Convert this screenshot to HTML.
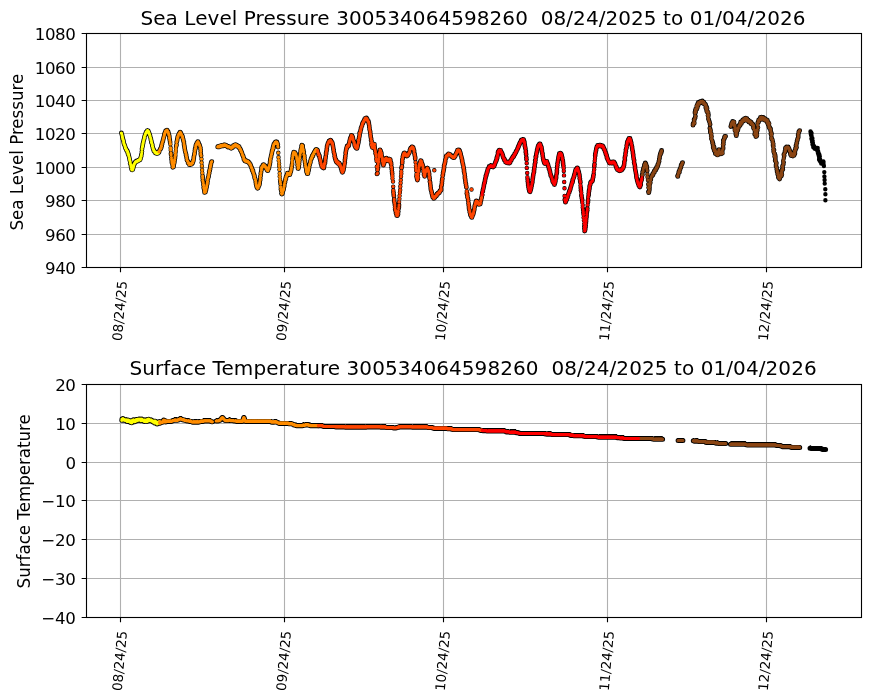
<!DOCTYPE html>
<html><head><meta charset="utf-8"><title>Buoy plots</title>
<style>html,body{margin:0;padding:0;background:#fff}svg{display:block}text{font-family:"DejaVu Sans", "Liberation Sans", sans-serif;fill:#000}</style></head><body>
<svg width="870" height="700" viewBox="0 0 870 700">
<rect width="870" height="700" fill="#fff"/>
<path d="M120.50 33.50V267.50M284.50 33.50V267.50M443.50 33.50V267.50M607.50 33.50V267.50M766.50 33.50V267.50M86.50 267.50H861.50M86.50 234.50H861.50M86.50 200.50H861.50M86.50 167.50H861.50M86.50 133.50H861.50M86.50 100.50H861.50M86.50 67.50H861.50M86.50 33.50H861.50" stroke="#b0b0b0" stroke-width="1.11" fill="none"/>
<path d="M120.50 384.50V617.50M284.50 384.50V617.50M443.50 384.50V617.50M607.50 384.50V617.50M766.50 384.50V617.50M86.50 617.50H861.50M86.50 578.50H861.50M86.50 539.50H861.50M86.50 500.50H861.50M86.50 462.50H861.50M86.50 423.50H861.50M86.50 384.50H861.50" stroke="#b0b0b0" stroke-width="1.11" fill="none"/>
<defs><path id="a0" d="M121.4 133h0m.2 .6h0m.2 .9h0m.2 .5h0m.3 1.2h0m0 .9h0m.4 .9h0m0 .7h0m.4 1h0m.3 .8h0m.1 .7h0m.2 1.3h0m.2 .9h0m.3 1h0m.3 .5h0m.3 .7h0m.1 .7h0m.3 .5h0m.2 1h0m0 .1h0m.3 .4h0m.3 .6h0m.2 .8h0m.2 .1h0m.2 .1h0m.1 .5h0m.5 .9h0m0-.3h0m.4 1.4h0m0-.7h0m.5 1.5h0m0 1h0m.4 1h0m0-.9h0m.3 1.7h0m.2 .6h0m.3 1.2h0m.2 .9h0m.2 1.4h0m.3 .9h0m.2 2.5h0m.1-1.6h0m.3 2.5h0m.3 .8h0m.2 1.2h0m.1 1h0m.4 .9h0m0 1h0m.4 .1h0m.1 .5h0m.1 0h0m.5-1h0m0 .5h0m.4-1.2h0m.2-.8h0m.3-1.3h0m.2-.3h0m.1-1.1h0m.1-.2h0m.3-.7h0m.1 .1h0m.4-.4h0m.1-.7h0m.2 .1h0m.3-.9h0m.2-.1h0m.3-.2h0m.2-.4h0m.2 .2h0m.1 .2h0m.3-.7h0m.2 .3h0m.4-.3h0m0 .3h0m.4-.4h0m.2 0h0m.2-.1h0m.1-.2h0m.2-.5h0m.3 .5h0m.2-.7h0m.2 .2h0m.4 0h0m.2-.5h0m.3 .1h0m.1 0h0m.1-.5h0m.4-.6h0m.1-1h0m.2-.5h0m.3-.9h0m.1-1.2h0m.4-1.4h0m.2-2h0m.1-2.7h0m.3-1.7h0m.3-1.2h0m.2-1.4h0m.1-.9h0m.2-.5h0m.2-1.2h0m.4-1.4h0m.1-.7h0m.3-.8h0m.2-.7h0m.1-1.1h0m.2-.9h0m.4-.8h0m.1-.4h0m.3-.6h0m.1-.7h0m.2-.5h0m.3-.5h0m.3-.3h0m0-.7h0m.5-.2h0m.2-.2h0m.2-.4h0m.2-.4h0m.1 .3h0m.2-.3h0m.3 .3h0m.1 .1h0m.3 .2h0m.3 .9h0m.1 .6h0m.4 .5h0m.1 .7h0m.1 .4h0m.4 .6h0m.2 .8h0m.2 1.2h0m.2 .6h0m.4 .7h0m.1 1.2h0m.1 .7h0m.4 2.2h0m0-1.2h0m.3 1.8h0m.2 .6h0m.4 2.2h0m0-1.1h0m.4 2.1h0m.2 1h0m.1 .4h0m.3 1h0m.3 .5h0m.2 .3h0m0 .7h0m.5 .3h0m0 .2h0m.4 .7h0m.2-.1h0m0 .6h0m.5 .3h0m.1 .3h0m.2-.1h0m.3 .2h0m.1 0h0m.1 .2h0m.5-.4h0m.1 .2h0m.2-.2h0m.1-.3h0m.4 .8h0m.3-.7h0m.1-.4h0m.3 .5h0m.1-.6h0m.3 .1h0m.1 .1h0"/><path id="a1" d="M159 151.7h0m.3-.3h0m.1-.4h0m.2-.3h0m.4-.9h0m.1-.4h0m.2-.2h0m.2-.2h0m.2-.7h0m.4-.2h0m.1-.9h0m.3-1.7h0m.1 .7h0m.4-2.5h0m0 .5h0m.2-1.4h0m.2-.5h0m.4-.8h0m.2-1.2h0m.2-.9h0m.4-1.3h0m.1-.6h0m.3-.9h0m.2-.9h0m.1-1.3h0m.3 .2h0m.1-.9h0m.2-.9h0m.4-.7h0m.1-.5h0m.1-.3h0m.2-.5h0m.5-.2h0m.2-.1h0m.2 0h0m.1 0h0m.3-.3h0m.2 .4h0m.1 .1h0m.2 .3h0m.4 1.2h0m.3-.2h0m.1 1.3h0m.1-.1h0m.4 .8h0m.1 1h0m.3 .7h0m.2 1.4h0m.1 1.3h0m.3 1.6h0m.3 1.9h0m.9 11.5h0m.1 1.3h0m.3 2.9h0m.2 2h0m.2 1.3h0m.1 1.8h0m.4 1h0m.2 .9h0m.3 1.2h0m0 1.5h0m.4-.4h0m.3-.2h0m.1-.8h0m.1-.8h0m.4-1.6h0m.2-1.1h0m.1-.7h0m.3-2h0m.3-3.2h0m0 1.4h0m1.2-11.8h0m.3-1.2h0m.2-2.8h0m.3-1h0m.2-1.1h0m.2-1.5h0m.2-.7h0m.1-.9h0m.4-.6h0m.1 .3h0m.1-1.2h0m.4-.8h0m.2-.1h0m.2-.9h0m.1 0h0m.4-.5h0m.1 .2h0m.4-1.1h0m0 .7h0m.3-.1h0m.1-.2h0m.2 1h0m.3-.2h0m.4 1.2h0m.1 .1h0m.2 .7h0m.4 .4h0m.1 .8h0m.3-.2h0m.1 1.3h0m.1 .4h0m.5 2h0m0-.8h0m.4 2.1h0m.3 .7h0m.1 1.9h0m.2 1.3h0m.1 .4h0m.2 1.3h0m.2 1.5h0m.3 1.7h0m.3 1.5h0m.1 .4h0m.4 1.4h0m.3 .9h0m0 1.1h0m.3 .9h0m.3 1.6h0m.1 .5h0m.2 1.7h0m.4 .6h0m.1 .1h0m.2 .5h0m.3 .5h0m.1 1h0m.3-.3h0m.1 .1h0m.3 .7h0m.1 .4h0m.4 0h0m.1 .9h0m.4-.1h0m0-.2h0m.4-.2h0m.2 .3h0m.3-.1h0m.1-.7h0m.2 .7h0m.2-.8h0m.3 .4h0m.2-.7h0m.2 .8h0m.2-.7h0m.3-.2h0m.2-.2h0m0-1h0m.3-.9h0m.4-.2h0m.1-.7h0m.3-1.4h0m.1-1.1h0m.1-1.1h0m.5-2h0m.1-.9h0m.2-.9h0m.2-2.1h0m.2-1.7h0m.4-.6h0m.2-1.9h0m.1 .8h0m.1-2.1h0m.4-.5h0m.4-1.3h0m0 .6h0m.4-.2h0m0-.4h0m.3-1.1h0m.3 .4h0m.2-1.1h0m.1 1.1h0m.3 0h0m.2 0h0m.2 .7h0m.1 .4h0m.3 .7h0m.3 .3h0m.1 .7h0m.2 0h0m.3 1h0m.4 1.3h0m.2 1.8h0m.1 1.9h0m.1 2.5h0m.3 1.8h0m1.5 20.4h0m.1 1.8h0m.1 2.6h0m.4 1.6h0m.3 2.2h0m.1 1h0m.1 2.4h0m.4 1.5h0m.3 1.7h0m.2 1.4h0m.1-.1h0m.3 0h0m0-.2h0m.4-.2h0m.3-1.3h0m.2-.3h0m.2-1.2h0m.1-.9h0m.3-.6h0m.1-.8h0m.2-1.5h0m.4-1.2h0m.1-1.1h0m.2-1.4h0m.2-2h0m.2-.5h0m.2-1.1h0m.4-.9h0m.1-.9h0m.2-1.6h0m.4-2.9h0m0 1.5h0m.5-2.3h0m0-1h0m.4-1h0m.2-1.9h0m.2-.8h0m0-.8h0m.4-.6h0m.1-1.2h0m.2-1h0m.3-.6h0m.3-.4h0m5.9-14.7h0m.3-.3h0m.2-.2h0m.2 .3h0m0-.1h0m.4 .2h0m.2-.2h0m.3 0h0m0-.4h0m.2 .6h0m.3-.3h0m.3-.6h0m.2 0h0m.3 .5h0m0-.5h0m.4 .2h0m.2-.1h0m.2-.4h0m.1-.2h0m.2 .7h0m.3-.7h0m.4 .5h0m.1-.6h0m.2 .3h0m.3 .3h0m.3-.6h0m0-.2h0m.2 .7h0m.4-.4h0m.1 0h0m.4-.5h0m.2 .4h0m.1 .1h0m.3-.4h0m.1 .1h0m.2 .2h0m.2 .4h0m.3-.1h0m.2-.3h0m.2 0h0m.3 .5h0m.1 .1h0m.3 .4h0m.2 0h0m.1-.1h0m.5 .8h0m.2-.6h0m.1 .1h0m.3 .4h0m.1-.4h0m.2 .4h0m.2-.1h0m.4 .1h0m.2-.1h0m.1 .5h0m.2-.1h0m.3 .2h0m.3 0h0m.1 0h0m.1-.1h0m.4 0h0m.3 .7h0m0 .3h0m.4-.7h0m.1 .4h0m.3-.4h0m.3 .1h0m.1-1h0m.4-.1h0m0 .4h0m.4-.2h0m.2-1.1h0m.3 .1h0m.1-.1h0m.2-.2h0m.3-.2h0m.1-.2h0m.2 .3h0m.2-.5h0m.2 .3h0m.2 .6h0m.3-1.1h0m.3 .6h0m.2 .4h0m.2-.1h0m.2 .3h0m.3-.8h0m.3 .8h0m.2-.1h0m0 .4h0m.3-.1h0m.2-.2h0m.3 .4h0m0 .4h0m.5-.6h0m.3 .8h0m0 .4h0m.3 .5h0m.3-.4h0m.1 .8h0m.2 .3h0m.3 .4h0m.3 .3h0m0 .8h0m.4 .3h0m0-.4h0m.3 .7h0m.2 1.2h0m.2 .1h0m.3 .5h0m.3 .8h0m.1 .6h0m.3 .6h0m.1 .6h0m.4 .8h0m.2 .6h0m.2 0h0m.3 1.3h0m0 .1h0m.2 1h0m.2 .9h0m.2-.7h0m.3 .9h0m.4 1h0m0-.5h0m.2 .6h0m.3 .2h0m.3-.7h0m.3 .7h0m.2 0h0m.2-.4h0m.1 .8h0m.1-.5h0m.3 .6h0m.4 .1h0m.1 .1h0m.2-.1h0m.2-.5h0m.2 .8h0m.2-.1h0m.3 .2h0m.3 .6h0m.1 0h0m.3-.2h0m.3 .8h0m.2 .6h0m.1 .3h0m.3 .4h0m.2-.4h0m.3 1.1h0m.2 .2h0m.2 .9h0m.2 .6h0m.1 .4h0m.3 .2h0m.4 .8h0m0 .5h0m.2 1.2h0m.4-.1h0m.3 .5h0m.1 .9h0m.1 .9h0m.3 .6h0m.2 .5h0m.3 1.2h0m.2 .6h0m.3 .2h0m.1 1.1h0m.1 1.1h0m.3 .7h0m.4 .7h0m.2 1.1h0m.1 .4h0m.2 1.3h0m.1 .8h0m.2 1.5h0m.3 1.3h0m.2 .7h0m.3 1h0m.2 .6h0m.2-.1h0m.3 .6h0m.3-.3h0m.2-.1h0m.1-.8h0m.1-.4h0m.4-.2h0m.1-.4h0m.2-.4h0m.4-1h0m.2-1.2h0m.1-1.2h0m.4-2h0m.2-1.6h0m.1-2.3h0m.2-.6h0m.2-2.4h0m.2-.9h0m.4-2.3h0m.2-1.7h0m0-1.1h0m.5 .2h0m.1-.7h0m.4-.8h0m.1-.2h0m.1-.4h0m.4-.4h0m.2-.1h0m.2-.3h0m0 .2h0m.3 .4h0m.4 0h0m.1 0h0m.1 .7h0m.3 .3h0m.3-.4h0m.1 .3h0m.2 .5h0m.4 1.2h0m.3 .2h0m0-.7h0m.3 1.4h0m.2-.1h0m.2 1h0m.2 0h0m.3 .6h0m.3 .4h0m0-.4h0m.4 .3h0m.2-.8h0m.3-.7h0m.2-.5h0m.2-.3h0m.1-1.1h0m.4-1.4h0m.1-.8h0m.3-.7h0m.3-1.7h0m0-1.2h0m.2-1.7h0m.2-1h0m.4-1.5h0m.2-.5h0m.1-1.4h0m.4-1.1h0m.2-.9h0m.1-1h0m.2-1.4h0m.2 .1h0m.4-.9h0m0-.9h0m.3-1.8h0m.4 .7h0m0-2.1h0m.3-1.1h0m.1-.4h0m.3-.4h0m.4-.5h0m.1-.1h0m.3-.6h0m.1 .5h0m.1-1h0m.5 .3h0m0-.4h0m.2-.4h0m.3 .1h0m.2 .1h0m.2 .3h0m.3-.4h0m.1 .8h0m.4 .3h0m.3 1.1h0m.2 .4h0m0 1.9h0m.2 .6h0m2.4 34.8h0m.2 2.1h0m.3 5.3h0m.4 1.6h0m.2 2.6h0m.3 .2h0m0 .4h0m.2-.1h0m.4-.7h0m0 .2h0m.4-2.5h0m0 .6h0m.3-1.2h0m.4-.6h0m.2-1.3h0m.2-1.3h0m.3-.7h0m.1-1.5h0m.1-.6h0m.4-1.8h0m.2-.4h0m.2-1.6h0m.2-.6h0m.2-1.4h0m.3 .5h0m.2-1.6h0m0-.8h0m.5-.5h0m.1-.1h0m.2-1h0m.3-.5h0m.2-.6h0m.1-.8h0m.3 .2h0m.3 .4h0m.2-.1h0m0 .4h0m.5-.6h0m.2 .7h0m.2 0h0m.1 .4h0m.3-.5h0m.3 .4h0m.2-.8h0m0-.6h0m.3-.6h0m.4-.8h0m.1-1h0m.3-.9h0m.1-1h0m.3-1.5h0m.3-2.1h0m.2-1h0m.6-6.8h0m.2-2.1h0m.3-1.4h0m.1 .2h0m.3-1.3h0m.1-.5h0m.2-.1h0m.3 .2h0m.2-.1h0m.4 .2h0m.2 1h0m0-.4h0m.4 .7h0m.2-.1h0m.3 1.2h0m.1 .5h0m.2 .2h0m.2 .9h0m.3 1.6h0m.1 1h0m.2 1h0m.3 1.8h0m.3 3.4h0m0-2.2h0m.4 5.3h0m.1-1.5h0m.2 1.7h0m.3-.9h0m.2-1.7h0m.3-1.7h0m.1-2.2h0m.2-1.7h0m.2-2.3h0m.2-1.4h0m.3-1.7h0m.3-2.1h0m.2-.8h0m.1-1.7h0m.2-1.1h0m.4-1.2h0m.3-1.4h0m0-.9h0m.3-.6h0m.2 .1h0m.3 .6h0m.3-.1h0m0 1.3h0m.2 1.3h0m.4 1.4h0m.1 1.7h0m.4 .5h0m0 2.4h0m.5 1.2h0m.1 1.6h0m.1 2h0m.4 1.4h0m.1 1.4h0m.3 1.7h0m.2 2h0m.2 .8h0m.2 1.1h0m.3 1.1h0m.2 1.5h0m.1 1.5h0m.2 .2h0m.2 .7h0m.2 .9h0m.2 .2h0m.4 0h0m.2-.1h0m.1-.9h0m.2-1.1h0m.4-1h0m.1-1.3h0m.4-1.5h0m0-1.3h0m.5-2.2h0m0 .6h0m.3-1.1h0m.3-.9h0m.2-.7h0m0-1h0m.3-.6h0m.3-1.5h0m.1 .4h0m.2-1h0m.4-1h0m.1 .5h0m.2-1h0m.2-1.1h0m.4 .3h0m.3-1.4h0m0 1.2h0m.2-1.6h0m.4-.3h0m.1-.1h0m.2-.3h0m.2-1h0m.3-.3h0m.1-.2h0m.2-.1h0m.3-.8h0m.2-.6h0m.4-.3h0m.2 .8h0m.2-1.3h0m.2-.3h0m.2-.2h0m.3 .3h0m0 0h0m.5 .4h0m0 0h0"/><path id="a1s" d="M170.4 144.2h0m.2 3.6h0m.1 2.2h0m4.7 4.9h0m.2-2.4h0m.3-4.2h0m0 2.4h0m25.6 8.4h0m.1 3.5h0m.3 3.4h0m.2 4h0m.2 3h0m76-20.2h0m.2 4.5h0m.2 3.2h0m.4 2.9h0m.1 2.8h0m.2 3.3h0m.3 4h0m0 3h0m.3 3h0m.7 7.4h0m11.5-24.9h0m.1-2.4h0"/><path id="a2" d="M317.5 150.5h0m.2 1.1h0m.1-.2h0m.1 1.2h0m.2 .3h0m.5 2.1h0m0-1.1h0m.2 .7h0m.4 .8h0m.3 1.7h0m0-1.2h0m.2 1.7h0m.2 1.2h0m.5 1.4h0m.2 1.2h0m.1-.1h0m.2 2.2h0m.3 .1h0m.1 .8h0m.2 1.2h0m.3 .5h0m.1 .6h0m.3-.4h0m.4 .3h0m.2 .3h0m0 .1h0m.2 .7h0m.5-.1h0m.1 .4h0m.2-.1h0m.1-.9h0m.2-.5h0m.4-3.1h0m0 .9h0m.5-1.3h0m.2-2h0m.1-2h0m.2-1.1h0m.2-1.3h0m.4-2.6h0m0-1.1h0m.3-1.5h0m.4-1.6h0m0-.8h0m.2-2.1h0m.2-1.1h0m.3-1h0m.4-.9h0m0-.5h0m.3-.2h0m.3-.9h0m.3-.5h0m0 .4h0m.2-1h0m.3-.2h0m.2 .2h0m.4-.5h0m.2 .1h0m.2-.3h0m.2-.3h0m.1 1.3h0m.3-.4h0m.2-.1h0m.2 .4h0m.2 .4h0m.2 .8h0m.3 .9h0m.1-1.1h0m.4 1h0m.2 1.3h0m.2 1.1h0m.1 .4h0m.2 1.6h0m.3 1.9h0m.2 .1h0m.1 2.3h0m.3 .8h0m.4 1.4h0m.1 1.9h0m.3 .3h0m.2 1.4h0m0 .5h0m.5 1.5h0m0-.5h0m.4 .4h0m.1 1.8h0m.2 0h0m.1-.2h0m.4 .8h0m.1 0h0m.2-.3h0m.5 0h0m.1 1.4h0m.2-.1h0m.2-.2h0m.2 .4h0m.3 0h0m.1 .2h0m.4-.4h0m.1-.1h0m.3 1.6h0m.1-.8h0m.3 .7h0m.1 1.2h0m.3-.6h0m.2 .6h0m.4 1.3h0m.1-.2h0m.1 1.9h0m.5 .3h0m.1 .9h0m.1 1.1h0m.3 .5h0m.3 .7h0m.1-.7h0m.2 .4h0m.2-.7h0m.4-.8h0m.2-.7h0m.1-1.3h0m.1-.5h0m.4-1.2h0m.1-1.5h0m.2-1h0m.4-1.7h0m.1-2.7h0m.3-1.8h0m.2-2h0m.3-2.6h0m0-1h0m.3-1.5h0m.2-1.4h0m.4-.8h0m0-1h0m.3-.7h0m.1-.6h0m.3-.5h0m.3 .2h0m.2 .4h0m.3-1.2h0m.2 .8h0m.2-.8h0m.3 0h0m.1-.8h0m.1-.9h0m.3-1h0m.3-1.3h0m.1-.7h0m.4-1.1h0m.1-1.2h0m.4-.4h0m0 0h0m.4-.8h0m.1-.7h0m.3-1.1h0m.1 .5h0m.4 .3h0m0-.6h0m.3 .5h0m.3 .8h0m.3 1.6h0m0-1.2h0m.3 1.9h0m.2 1.2h0m.3 .5h0m.1 .6h0m.4 .3h0m.2 .8h0m.2 1.4h0m.2 1.5h0m.2-.2h0m.1 .8h0m.2 .7h0m.3 .2h0m.3 .3h0m.1 .4h0m.3 .4h0m.3-.2h0m.3 .5h0m.1-.2h0m.2 .1h0m.3-1.4h0m.1-.5h0m.3-1.5h0m.1-.6h0m.3-.8h0m.3-3.4h0m0 1.8h0m.4-2.2h0m.2-1.9h0m.3-1.3h0m.2-1.4h0m0-2h0m.3 0h0m.4-1.2h0m.2-1.2h0m.2-.9h0m.2-.3h0m.1-1.4h0m.2-.4h0m.3-.8h0m.2-.6h0m.3-.6h0m.2-.9h0m.1-.9h0m.2-.4h0m.4-.3h0m.1-.5h0m.4-.9h0m.1-.1h0m.1 0h0m.4-.9h0m.2-.5h0m.1 .3h0m.2-1.1h0m.4-.1h0m.2-.1h0m.2 .3h0m.2-1.4h0m.3 .9h0m.1-.3h0m.3-.5h0m.2-.3h0m.1 .8h0m.4 .6h0m0-.6h0m.4 .6h0m.2 .6h0m.2 .7h0m.1 .5h0m.2 .5h0m.5-.2h0m0 1.1h0m.3 .3h0m.2 1.6h0m.3 1.6h0m.1 1.4h0m.2 1.7h0m.3 1.2h0m.3 1.5h0m.1 1.5h0m.3 2h0m.1 1.4h0m.4 3.4h0m0-1.7h0m.4 2.3h0m.1 1.8h0m.3 .6h0m.2 1.6h0m.3 0h0m.2 2.8h0m0-1.9h0m0 .3h0m.5-.5h0m0-.5h0m.1-1.2h0m.1 1.7h0m.2 .9h0m.3 .6h0m.1-1.7h0m.2 1h0m.1 .2h0m.4 .5h0m.2 1.3h0m.1 1h0m.3 1h0m.2 1h0m.2 2.1h0m.4 .4h0m1 20.1h0m.1-.1h0m.4-.5h0m0-3.3h0m.4-1.7h0m.2-2.3h0m.1-1.9h0m.8-9h0m0 2.1h0m.5-4.6h0m0 1.1h0m.4-2.2h0m.1-1.7h0m.2 .9h0m.4 .1h0m0 1h0m.2 .3h0m.5 .7h0m.1 1.2h0m.2 1.4h0m.1 1h0m.5 1.3h0m.1 3.2h0m.1-2.1h0m.4 2.5h0m.1 1.5h0m.2 1.3h0m.3 .4h0m0 .7h0m.3-1.1h0m.2-.1h0m.5-1.4h0m0-1.6h0m.4 .4h0m.1-.5h0m.3-.8h0m.1-1.3h0m.3-.1h0m.1-.2h0m.2-.2h0m.4-.1h0m0 .8h0m.3-.1h0m.2 .2h0m.4 .7h0m.2 .7h0m.2 0h0m.2 .1h0m.3 .3h0m.2-.3h0m0-.2h0m.3 .5h0m.4-.6h0m0-1.1h0m.2 0h0m.3 .4h0m.3-.1h0m.3-.2h0m.2 .5h0m0 .3h0m.4 1.7h0m.1 .9h0m.3 .2h0m.1 1.5h0m.3 2.8h0m.3 2.1h0m.2 2.5h0m.2 1.8h0m1.3 19.1h0m.2 2.1h0m.2 1.2h0m.3 3.3h0m0 1.9h0m.5 2h0m.2 1.8h0m.3 4.6h0m.4 1.2h0m.2 .4h0m.2 1.9h0m.1 .4h0m.2 .4h0m.1 .4h0m.3 1.1h0m.2 .2h0m.4 .1h0m0-.4h0m.3-.1h0m.4-.7h0m0-1.6h0m.3-1.5h0m.3-2.8h0m.3-1.6h0m.1-2h0m2.5-37h0m.4-1.7h0m.3-3.4h0m.1-1.7h0m.1-1.9h0m.4-1.1h0m.1-1.8h0m.2-.5h0m.2-1h0m.3-.2h0m.2-1.1h0m.2-.2h0m.2-.2h0m.3-.3h0m.3 .7h0m.1-.2h0m.2 .1h0m.2 .6h0m.5 .4h0m.1 .3h0m0 .6h0m.3-.6h0m.2 .4h0m.3 .8h0m.2 0h0m.4-.6h0m.2-.3h0m0 .5h0m.3-1.2h0m.3 .3h0m.1 .1h0m.4-1.3h0m.1 .1h0m.3-.8h0m.2 .3h0m.2-.8h0m.1-.1h0m.2-.7h0m.2-1.4h0m.2-.5h0m.3-.9h0m.2-.1h0m.4-.6h0m.2 .5h0m.3-.7h0m.2 0h0m.2-1h0m.3 .2h0m0 .2h0m.2 0h0m.2 0h0m.3 .8h0m.3-.3h0m.1 .4h0m.3 1.3h0m.2 .2h0m.2 .9h0m.1 .6h0m.3 2.4h0m.2 .5h0m.2 1.4h0m.4 1.9h0m0 1.5h0m1.3 17.6h0m.3 1.3h0m.2 .6h0m.2 1.3h0m.2 .5h0m.4-1.2h0m.6-7.1h0m.2-1.1h0m.2-1.2h0m.2-2.3h0m.4-1.5h0m.1-1.2h0m.1-.9h0m.5-.8h0m.1-.9h0m.3-.3h0m.2-1h0m.1 .5h0m.4 .1h0m.1 .6h0m.1-.5h0m.2 1.3h0m.2 .7h0m.4 .6h0m.1 1.3h0m.3-.2h0m.4 1.4h0m0 1.8h0m.4 1.4h0m.2 2.2h0m.1-.3h0m.3 1.3h0m0 1.9h0m.5 1.3h0m.2 .3h0m.2-1.3h0m.1-.9h0m.2-1h0m.2-.7h0m.4-1.6h0m0 0h0m.3-.9h0m.2-.3h0m.4-.2h0m.2-.7h0m.3-.5h0m.1-.1h0m.3 .4h0m0-.2h0m.2 1h0m.4 .7h0m.2 .5h0m0 .9h0m.5 .7h0m.2 2.6h0m0-.9h0m.3 3.1h0m.2 1.6h0m.3 3h0m.2 1.1h0m.2 1.7h0m.2 1.8h0m.2 2h0m.2 1.6h0m.4 1.2h0m.2 .6h0m.2 1.5h0m.3 .7h0m.1 .9h0m.2 .9h0m.2 .4h0m.2 1.1h0m.2-.5h0m.4 .4h0m0 .6h0m.4 .5h0m.1 .4h0m.3-.5h0m.2-.2h0m.4-.2h0m.1-.1h0m.3-.8h0m.1 .5h0m.2-.9h0m.4 0h0m0-.4h0m.3 .1h0m.2 0h0m.1-.5h0m.3-.7h0m.3-.8h0m.2 .8h0m.2-.1h0m.3-.9h0m.1 .3h0m.3-1h0m.1 .1h0m.3-.3h0m.2 .2h0m.2-.6h0m.4 .3h0m0 .1h0m.4-.8h0m0-.2h0m.2-.9h0m.4-.2h0m.2 0h0m.2-.3h0m.4-.3h0m0-1.2h0m.1-2.3h0m.5-1.8h0m.2-1.5h0m.1-1.9h0m.2-1.6h0m.2-1.2h0m.3-3h0m.2-.9h0m.2-2h0m.3-1.1h0m.2-1.4h0m.3-1.4h0m.2-1.6h0m0-1.5h0m.5-1.5h0m.2-.4h0m.2-1.2h0m.2-1.2h0m.1-1.3h0m.3-.8h0m.3-.9h0m.2-1.9h0m0 1.4h0m.3-1.1h0m.2-1.2h0m.2 .5h0m.3-.4h0m.3-.4h0m.3 .1h0m.2-.6h0m.2 .2h0m.2 .1h0m.2-1.2h0m0 1.1h0m.4-.7h0m.1 .2h0m.2-.2h0m.5 .2h0m.1-.2h0m.1 .8h0m.4 .2h0m.2 .2h0m.1-.1h0m.4 .1h0m.2 .5h0m.2 .2h0m.2 .3h0m.1 .1h0m.3 .2h0m.2 .1h0m.3 .2h0m.1-.4h0m.1 0h0m.5 .6h0m.1 .4h0m.1-.4h0m.2-.2h0m.4 .6h0m.1-.7h0m.3-.5h0m.2 .6h0m.1-.4h0m.3-.2h0m.4-1.6h0m0 .9h0m.2-1h0m.4-.9h0m.1-.3h0m.3-.5h0m.3-.1h0m.2-1.2h0m.1 0h0m.2-.6h0m.2-.4h0m.2-.7h0m.4 .1h0m0 .3h0m.3 0h0m.3 .3h0m.1-.7h0m.2-.1h0m.4 .4h0m.2 .8h0m.2-.2h0m.1 .5h0m.3 1h0m.3 .4h0m.3 2h0m0-.9h0m.3 1.8h0m.3 .8h0m.3 1.4h0m.2 .6h0m.2 .9h0m.2 1h0m0 .8h0m.3 1.3h0m.4 1.3h0m.1 .9h0m.1 .3h0m.4 1.8h0m.2 1.6h0m.3 2.7h0m0-1.2h0m.2 2.3h0m.4 1.8h0m.3 2.3h0m0 1.5h0m.3 1.3h0m.2 1.8h0m.2 2h0m.3 .7h0m.2 1.7h0m.3 1.8h0m.4 6.2h0m.4 .3h0m.1 1.8h0m.2 1.7h0m.4 1.2h0m.3 2h0m.3 2.8h0m.2 1.9h0m.3 1.6h0m0 1.3h0m.2 1.4h0m.5 2.5h0m.1-1.2h0m.2 1.8h0m.3 1.2h0m.1 1.2h0m.3-.2h0m.2 .9h0m.3 .5h0m.2 .8h0m.2 .2h0m.3 .3h0m.1-.6h0m.1 .3h0m.2-1.2h0m.4-.3h0m.3-1.2h0m.1 0h0m.3-.9h0m.2-.9h0m.2-1.3h0m.3-.9h0m.2-1.2h0m.3-1.9h0m.2-1.7h0m0 1h0m.4-1.7h0m.1-.8h0m.3-1.1h0m.1-.7h0m.3-.5h0m.2-.6h0m.1-.2h0m.4 .5h0m.2 0h0m.3 .3h0m.3-.1h0m.1 1.5h0m.2-.1h0m.1 .2h0m.3 .3h0m.3-.3h0m0 .7h0m.5 .1h0m0 .3h0m.4-.3h0m.2 0h0m.2 .1h0m0-.2h0m.4-.1h0m.2-.7h0m.3-2.7h0m.1 .7h0m.2-.8h0m.3-1.7h0m.2-1.1h0m.2-.1h0m.3-2.1h0"/><path id="a2s" d="M371.4 144.8h0m.4 1.7h0m2.8-2.2h0m1.5 11.7h0m.1 2.9h0m.4 2.2h0m.2 5.6h0m1.8-4.9h0m.1-2.3h0m13.7 16.5h0m.1 2.4h0m.5 3.2h0m.2 5h0m.1 3.7h0m1.6 17.1h0m4.2-5.5h0m.3-3.1h0m.2-3.1h0m.3-3.2h0m.3-2.6h0m.1-3.4h0m.3-3.4h0m.2-3h0m.2-3.6h0m.3-2.7h0m0-2.4h0m14.3-9.1h0m.3 3.2h0m.1 2.4h0m.1 2.6h0m.4 3.6h0m1.6 .4h0m0 3h0m16.2-7.2h0m32.5 20.8h0m4.7-1.6h0"/><path id="a3" d="M482.2 194.4h0m.1-1.7h0m.3-.8h0m.2-.5h0m.1-1.4h0m.4-1.2h0m.2-1h0m.3-1.6h0m.1-1h0m.3-1.3h0m.1-.7h0m.3-.3h0m.3-1.5h0m.1-1.2h0m.3-1.1h0m.1-.8h0m.3-.8h0m.1-1.4h0m.5-.5h0m0-.9h0m.4-1h0m.2-1.3h0m.1 .7h0m.4-1.4h0m.1-1h0m.1-.4h0m.2-1h0m.4-.4h0m.3-.4h0m.2-.4h0m.1-.4h0m.2-.5h0m.2-.7h0m.3 .6h0m.1-.3h0m.2-.5h0m.5 .1h0m.2-.3h0m.2-.4h0m.1-.1h0m.1 .1h0m.5 .4h0m.1-.1h0m.3 .5h0m.2-.5h0m0 .6h0m.4-.4h0m.1 .6h0m.2-.6h0m.4 .8h0m.1-.3h0m.3-.5h0m.1 .4h0m.4-.5h0m.2-.2h0m.2-.7h0m.1-.3h0m.3-.3h0m.2-1h0m.3-1h0m.1 .1h0m.2-.5h0m.2-.9h0m.3-.7h0m.3-.1h0m.2-1.4h0m.1 .5h0m.1-1.9h0m.4 .3h0m.2-1.5h0m.1-.9h0m.4-1.3h0m.1-1.9h0m.2-.8h0m.3 .6h0m.3-1.1h0m.3 .4h0m.1-.8h0m.1-.6h0m.4 .5h0m0-.2h0m.5 .4h0m.1-.4h0m.3 .3h0m0-.3h0m.4 1.2h0m.1 .6h0m.3 .1h0m.3 .3h0m.2 .5h0m.1 .5h0m.3 .3h0m.1 .9h0m.5 .6h0m0 .8h0m.1 .5h0m.2 .7h0m.3 .7h0m.2 .5h0m.4 .1h0m.2 1.2h0m.2-.5h0m.2 .8h0m.2 0h0m.3 .8h0m.3 1.1h0m0-.6h0m.4 .4h0m0 .1h0m.3 .4h0m.2 0h0m.2-.1h0m.3 0h0m.2 .6h0m.3-.5h0m.2-.2h0m.1 .6h0m.3-.2h0m.4 .3h0m.2-.3h0m.1 0h0m.1 .4h0m.4-1h0m.2 .4h0m.2 .7h0m.2-1.5h0m.2 .3h0m.2 .4h0m.2-1.3h0m.1 .1h0m.3-.7h0m.3-.3h0m.3-.7h0m0 .7h0m.2-.9h0m.4-.9h0m.2-.2h0m.1 .1h0m.3-.9h0m.3-.1h0m0-.3h0m.5-.8h0m0 .7h0m.5-.5h0m.2-.9h0m.2-.2h0m.1-.1h0m.2-.9h0m.1-.4h0m.3 .4h0m.4-1h0m.2-.6h0m.1-.3h0m.3 0h0m.1-.8h0m.2-.3h0m.4-.2h0m.3-.8h0m.1-.3h0m.2-.4h0m.1-.5h0m.3-.4h0m.1 0h0m.2-1.3h0m.3-.9h0m.3 .3h0m.3-.6h0m.2-.8h0m.2-1.1h0m.3 .1h0m.2-.8h0m.1-.6h0m.3 .2h0m.1-.8h0m.1 0h0m.3-.7h0m.4-1.1h0m.1 .5h0m.4-.9h0m.1-.1h0m.1 .2h0m.4-.2h0m0-.4h0m.3 .2h0m.2-.1h0m.4-.1h0m.1-.2h0m.3 .3h0m.2 .1h0m.1 .3h0m.2 1.8h0m.4 .1h0m.1 1.3h0m.3 1.8h0m.1 1.1h0m.3 1.1h0m.2 1.1h0m.4 2.6h0m0 1.3h0m.3 2h0m.2 3.2h0m.2 2h0m1.2 20.1h0m.1 1.8h0m.3 2.3h0m.1 1.6h0m.3 2h0m.3 .4h0m.1 1.5h0m.3 .3h0m.1 1.5h0m.3 0h0m.1 .5h0m.4 .3h0m.1-1h0m.3-.3h0m.3-1.1h0m.3-1.2h0m0-.6h0m.4-1.4h0m.1-.2h0m.3-2h0m.2-.8h0m.3-1.3h0m.2-2.1h0m.2-1.6h0m.2-1.2h0m.2-1.4h0m.1-1h0m.3-1.3h0m.4-1.4h0m0-1.3h0m.2-1.3h0m.2-1.7h0m.3-1.4h0m.1-2h0m.4-3.6h0m.1 1.9h0m.4-5.5h0m.4-.2h0m.2-2.2h0m.2-1.1h0m.2-1.2h0m.3-.7h0m.1-1.5h0m.3-1.1h0m.3-1.2h0m.1-.1h0m.2-1.1h0m.2-.8h0m.3-.1h0m.1-.1h0m.2-.5h0m.4-.2h0m.2-.4h0m.1-.5h0m.4 .6h0m.2-.7h0m0 .6h0m.4 .3h0m.1 .7h0m.2 .9h0m.4 .4h0m.2 2.3h0m.1-1.8h0m.3 2.1h0m.1 1.3h0m.2 1.7h0m.4 1h0m0 1.2h0m.3 1.6h0m.3 2.1h0m.2 .9h0m.2 1.3h0m.3-.2h0m0 .8h0m.3 1.5h0m.3 .3h0m.3 .2h0m.2 .5h0m.2-.6h0m.1 0h0m.2-.4h0m.3-.7h0m.3 .5h0m.1 0h0m.2-.2h0m.2-.8h0m.3 0h0m.1 .9h0m.4 .7h0m.1 .4h0m.4 .8h0m.2 .4h0m.1 1.3h0m.3 .4h0m.2 .6h0m.2 .7h0m.2 1.3h0m.3-.1h0m.1 1.3h0m.4 .6h0m.2 1.6h0m0-.7h0m.2 1.4h0m.4 1.2h0m.1 1.2h0m.3 .2h0m.2 .6h0m.3 .8h0m.3 .8h0m.2 1h0m.2 .4h0m.1 0h0m.3 1.8h0m.1 .4h0m.4 .8h0m.2 .1h0m.2 .5h0m.2 .5h0m.2 .4h0m.2 .3h0m.2 .4h0m.2 .2h0m.2-.9h0m.3-.8h0m.1-.2h0m.3-1.4h0m.2-1.5h0m.4-1.2h0m.1-1.2h0m.1-1.6h0m.5-2.3h0m.2-1.4h0m0-1.9h0m.2-2.7h0m.3-2h0m.1-2h0m.4-1.9h0m.2-1.6h0m.4-1.7h0m0-1.1h0m.4-1.4h0m0-.4h0m.4-1.7h0m0 .9h0m.4-1.2h0m0 .4h0m.4-.3h0m.2-.3h0m.1 .4h0m.3 0h0m.3 0h0m0 0h0m.5 1h0m.2 .8h0m.1 .9h0m.4 1.2h0m0 .5h0m.2 1.2h0m.4 1.1h0m.2 1.9h0m.1 1.6h0m.3 1.9h0m1.4 34h0m.5 2.1h0m0 .3h0m.2 .1h0m.3-.9h0m.3-.3h0m.1-.4h0m.3-.7h0m.2-.2h0m.4-1.9h0m.2-.2h0m.2-.2h0m.1-1.4h0m.1-.1h0m.4-.9h0m.2-.2h0m.2-1h0m.1-.4h0m.3-.4h0m.3-.6h0m.1-1.2h0m.2 .1h0m.4-.8h0m.2-.9h0m.2-1.1h0m0 .8h0m.4-1.7h0m.2-.8h0m.2-.7h0m.2-.6h0m.3-1.2h0m.2-.8h0m.3-.4h0m.1-1h0m.3 .2h0m.2-2.5h0m0 1.5h0m.3-1.9h0m.2-.6h0m.4-.7h0m.1-.9h0m.2-.5h0m.3-.5h0m.1-1.4h0m.4-.5h0m.3-1.1h0m0-.7h0m.4-1.8h0m0 .3h0m.3-1.1h0m.2-.3h0m.4-.4h0m0 .2h0m.5-.4h0m.1-.7h0m0 .5h0m.4-.9h0m.1 .5h0m.3 0h0m.3 .8h0m.1 .9h0m.3 .9h0m.1 .4h0m.3 .6h0m.4 1.9h0m.2 .8h0m.2 1.5h0m.1 2.2h0m.2 .4h0m.3 2.3h0m.2 1.2h0m.4 5.8h0m.1 2.2h0m.6 5.8h0m.3 1.8h0m.4 2.1h0m1 10.1h0m.2 2.1h0m.9 14.4h0m.1 2.1h0m.2 2.3h0m.3-.2h0m.3-1.3h0m.3-1.9h0m.2-1.9h0m.2-2.7h0m.2-2.1h0m.1-1.9h0m.3-2h0m.4-4.9h0m.4-1.8h0m0-1.8h0m.7-6.4h0m.1-2h0m.6-5.1h0m0-1.4h0m.3-2.1h0m.1-1.2h0m.4-1.5h0m.1-1.9h0m.1-1h0m.4-1h0m.3-.6h0m.1-1.7h0m.2 .3h0m.3-.7h0m.1-.4h0m.3 .3h0m.1-.6h0m.2 .2h0m.3-.3h0m.3-.2h0m.3-.8h0m.1-.6h0m.1-1.2h0m.4-1.4h0m.1-1.3h0m.3-1.1h0m.7-8.6h0m.2-1.9h0m.7-8.6h0m.1-1.7h0m.3-1.3h0m.3-1.6h0m.2-.8h0m.2-1.7h0m.2-.5h0m.3-.6h0m0-.5h0m.5-.4h0m.1-.3h0m.1-.3h0m.2-.6h0m.4 .6h0m.1 .1h0m.4-.5h0m.1 .1h0m.1-.1h0m.4 .1h0m0-.1h0m.2-.5h0m.3 .7h0m.4 .2h0m.2-.8h0m.1 .4h0m.3 .6h0m.3-.6h0m.2 .3h0m.1-.1h0m.3 0h0m.1 .1h0m.4 .2h0m0-.4h0m.4 .5h0m.1 .3h0m.3-.3h0m.1 1.1h0m.4-.1h0m.1 .2h0m.3 .8h0m.1 .7h0m.2 .1h0m.2 .5h0m.2 .1h0m.4 .8h0m0 .7h0m.3 .9h0m.4 .9h0m.3 1.3h0m0-1.1h0m.2 1.5h0m.2 .6h0m.4 .2h0m.1 2.2h0m.3-.2h0m.1 1.1h0m.2 .4h0m.2-.2h0m.4 1.1h0m.3 .9h0m.1 .1h0m.1 .4h0m.4 .7h0m.1-.3h0m.3 .1h0m.2 1.4h0m.2-.8h0m.2 .7h0m.2-.3h0m.2 .2h0m.4 0h0m0-.1h0m.3-.2h0m.2 .4h0m.3 .1h0m.1 .1h0m.2-1h0m.4 .1h0m.1 .5h0m.3 .2h0m.2-.5h0m.2-.6h0m.2 .6h0m.1-.4h0m.5-.1h0m0-.2h0m.3 .8h0m.2 .1h0m.3 .4h0m.1 .4h0m.3 .2h0m.3 .9h0m.1 .1h0m.4 1.3h0m0-.1h0m.2 .7h0m.5 .5h0m0 1h0m.3 0h0m.1 .5h0m.4 .6h0m0 .2h0m.2 .2h0m.2 .2h0m.4 .1h0m.4 0h0m.1 .3h0m.1 .2h0m.3-.2h0m.3 .5h0m0 .1h0m.4-.6h0m0-.3h0m.2 .6h0m.5 .2h0m0-.6h0m.3 .3h0m.2 0h0m.3-.5h0m.2 .3h0m.3-.1h0m.1-.6h0m.3 0h0m.2-.8h0m.2 .1h0m.1-.1h0m.3-.2h0m.3-.6h0m.1-.7h0m.4-.6h0m.3-1.2h0m.1-.7h0m.2-1.6h0m.1-1.5h0m.4-3.6h0m.1 2.1h0m.2-3.8h0m.3-1.1h0m.1-1.9h0m.4-1.7h0m0-1.8h0m.4-1.4h0m.3-1h0m.1-2h0m.3-.6h0m.2-1.3h0m0-1.3h0m.5-.9h0m.3-.2h0m.1-.7h0m.1-.4h0m.4-.4h0m.1-.4h0m.3-.8h0m.3 .3h0m0 .3h0m.2-.4h0m.4 .3h0m.1-.4h0m.1 1.1h0m.2 0h0m.4 1h0m.1 1.6h0m.4 .4h0m.1 1.4h0m.1 .2h0m.3 1.2h0m.3 1.2h0m.2 1.6h0m.2 1.7h0m.4 1.4h0m.1 1.7h0m.3 1.4h0m.1 1.6h0m.2 1.6h0m.2 1.5h0m.4 1.1h0m0 2.1h0m.2 1.3h0m.4 1.1h0m.3 3.4h0m0-1.8h0m.3 3.5h0m.2 .9h0m.2 1.1h0m.3 1.7h0m.3 1.6h0m.1 1.1h0m.1 1.6h0m.4 .8h0m.2 1.1h0m.1 .9h0m.3 .8h0m.3 1h0m.2 .9h0m.2 .5h0m.2 .3h0m.3 1.2h0m.2-.2h0m.3 .6h0m.2 .8h0m0-.8h0m.5 1.1h0m0 .2h0m.2-.5h0m.2-.4h0m.4-1.1h0m0-.7h0m.2-2.3h0m.3-1.1h0m.4-.8h0m0-1h0m.3-.8h0m.2-2.8h0"/><path id="a3s" d="M526.7 163.2h0m.1 4.7h0m.4 5h0m.2 4.3h0m8.2-17.6h0m28.1 8.6h0m.1 2.9h0m.2 4.3h0m.2 6.6h0m.3 6.3h0m.1 7.6h0m15.9-10.4h0m.8 9.3h0m0-2.3h0m1 10h0m.4 2.6h0m0 2.3h0m.8 7.1h0m.1 3.1h0m.3 2.9h0m.3 3.1h0m2.6-9.2h0m.8-9.4h0m.6-7.7h0m5.6-25.3h0m.4-2.6h0m.5-8.4h0m.3-2.5h0"/><path id="a4" d="M642.3 174.7h0m.3-2.7h0m.2 .1h0m.3-.6h0m.1-1.8h0m.2-1h0m.2-.5h0m.2-.4h0m.3-.8h0m.3-2.1h0m.3-.1h0m.1-.3h0m.3-.6h0m0-.5h0m.2-.4h0m.3 1.2h0m.3-.2h0m.1 .5h0m.3 .7h0m.1 1.7h0m.5-.1h0m0 2.5h0m.3 1.5h0m1.2 21h0m.3 .9h0m.2-.3h0m.4-1.8h0m.1-1.3h0m.7-7.1h0m.2 .5h0m.4-2.9h0m.1 0h0m.1-1.6h0m.2-1h0m.2-.3h0m.3-.3h0m.2-.4h0m.3-.3h0m.2-.5h0m.2-1.1h0m.3 .9h0m.2-1.2h0m.2 .3h0m.1-.9h0m.2-.6h0m.3-.4h0m.3-1h0m.3 .8h0m.1-1.3h0m.1-.1h0m.4-.2h0m0-.4h0m.3-.1h0m.4-1.1h0m.1 1.1h0m.4-1.1h0m.2-1.4h0m.2 .1h0m0-.3h0m.4 .3h0m.2-.7h0m0-.1h0m.5-.8h0m0-1.3h0m.3 .1h0m.3-1.3h0m.1 .2h0m.2-1.2h0m.4-1.8h0m.1 .7h0m.2-2.7h0m.2-.2h0m.2-1.9h0m.2-1.1h0m.3-1.3h0m.1-.5h0m.4 .1h0m.1-1.5h0m.4-.3h0m.1 .5h0m.3-2.1h0m.1 .5h0m15.8 25.1h0m.3 .3h0m.3-1.5h0m0 .1h0m.2-.9h0m.4-1.2h0m.1-.9h0m.2-.3h0m.4 .6h0m.1-2.1h0m.2 .1h0m.3-.5h0m.2-.7h0m0-.4h0m.2-.4h0m.5-.9h0m.1-1h0m.1-1.2h0m.2 .2h0m.2-.5h0m.4-.6h0m.2-1.1h0m0 .9h0m.3-1h0m.2-.5h0m10.4-37.4h0m.1-.7h0m0-.9h0m.9-1.5h0m.1-2.6h0m.1 .7h0m.8-7.1h0m0-1h0m.1 5.8h0m.3-1.7h0m0-6.1h0m.3-.9h0m1 0h0m.1-1.1h0m.4-.1h0m0-1.7h0m.2-1.7h0m.1 2.2h0m.1-1.7h0m.1-.1h0m.2-1.5h0m.5-1h0m0 2.3h0m.4-1h0m0-.9h0m.5-.1h0m.5-.5h0m.1 .7h0m.2-.9h0m.4-.6h0m.1 .4h0m0 0h0m.2-.4h0m.1 .2h0m.4-.1h0m.2 0h0m.1 .6h0m.4-.5h0m0-.3h0m.3-.4h0m.1 .9h0m.3 .4h0m.1-.1h0m.2-.2h0m.4 0h0m.3 1.7h0m.2-.2h0m.1-1.1h0m.3 1.1h0m.1 .4h0m.5 0h0m.4 .9h0m.3-.1h0m.2 .5h0m0 2.5h0m.1-1h0m.2-.1h0m.3 3h0m.4-2.1h0m0 3.7h0m.1-1h0m.1-1.8h0m1.4 7.4h0m0-1.3h0m.3 5.3h0m.7 1.9h0m.2 .6h0m.3 6.2h0m0-.4h0m.1-4h0m.1 .3h0m.2 7.1h0m.1 1.1h0m1.9 8.6h0m.2 1.8h0m.1-1h0m.5 2h0m0 1.7h0m.1 2h0m.5-1h0m.3 2.7h0m.1-2.2h0m0 1.3h0m.1 2.1h0m.3 .1h0m.7 .3h0m0-.7h0m.1 3.2h0m.1-2h0m.1 1.6h0m.6-.3h0m.3-.6h0m.1 2h0m.3-.6h0m.1 .3h0m.1-.4h0m0 1.3h0m.7-1.2h0m.1-1.7h0m.2 .4h0m0 1.5h0m.5-1.9h0m.4-.3h0m.1-1.9h0m.2 1.7h0m.2 1.2h0m.2-.4h0m.1 .5h0m.4 .3h0m0 .2h0m.4-.2h0m.3 .8h0m.1 .1h0m.2-1h0m0 .1h0m.5 0h0m.2 0h0m.4-1.7h0m.1-1h0m.8-3.1h0m0 1.5h0m.2-8.4h0m.1 2.1h0m0 1.8h0m1-6.9h0m.1 1.2h0m.3-.8h0m.1-1.3h0m.2 .7h0m0-.2h0m.5-.6h0m5.2-9.8h0m.3-.8h0m.1-.8h0m.1 .2h0m.3-.4h0m0-1.3h0m.2 1.1h0m.4-1.3h0m.1-.9h0m.2 .2h0m.1 0h0m.1-1h0m.1 1.3h0m.5-.8h0m.3 1.4h0m.2 .9h0m1 4.3h0m.3-1.5h0m.8 6.8h0m0 .6h0m.1-1.6h0m.3 2.8h0m0-1.8h0m.2 1h0m.1-.6h0m.2-1.8h0m.2-1.3h0m.4-.5h0m.4-.5h0m0-1.7h0m.1-.1h0m.3 0h0m.2-.6h0m.6-1.3h0m0-1h0m.2 .4h0m.6-1.2h0m.2-.1h0m.1 .8h0m.1-1.8h0m.3-.5h0m0 0h0m.2-1.1h0m.4 0h0m.1 .3h0m.2 1.2h0m.2-1.4h0m.3-.6h0m.5-.5h0m.4 .3h0m0-1.5h0m.1 .8h0m.3 .6h0m.2-.4h0m.2-.9h0m.1 0h0m.1-.4h0m.5-.1h0m.2 1h0m0-1.8h0m.3 .2h0m.2 .3h0m.3 0h0m.2-.4h0m.3-.6h0m.6 .6h0m0-.4h0m.3 1.9h0m.2-1.6h0m0 .7h0m.2 1.3h0m0-1.4h0m0 .5h0m.6 .2h0m.4 0h0m.3 .6h0m0 .5h0m.1-.1h0m.1 .1h0m.2 1h0m.7-.1h0m0 0h0m.2-.2h0m.2-.4h0m.6 1.2h0m.1-.3h0m.1-.4h0m.2 .9h0m.2 1.1h0m.1-1.5h0m.1 1.2h0m.1-.7h0m.1 .2h0m.5 .8h0m.5 .1h0m.1 .8h0m.2-.2h0m.3 .3h0m.5 .9h0m.1 1.6h0m0-.9h0m.1 1.5h0m.9 6.4h0m.4-1.8h0m0-.2h0m.1 2.2h0m.3 0h0m.3 2.1h0m.2-1h0m.2 .6h0m.3 .1h0m.1-2.1h0m.1-1.9h0m.4-2.4h0m.2 .5h0m.5-7.7h0m.1-.2h0m.6-1.8h0m.1 1.4h0m.1-2.2h0m.9-.3h0m.1-.5h0m.1 .2h0m.1-.6h0m0 1h0m.4-1.1h0m.2-1.2h0m.1 1h0m.1 1.2h0m.6-1.8h0m0 .9h0m.1-.9h0m.3-.7h0m.3 .7h0m.2-.3h0m.2 1.4h0m.6-.3h0m.2-1.1h0m.3 .8h0m.1 .5h0m0 .8h0m.1-1.1h0m.4-.2h0m0-.1h0m.4 1.9h0m.1-1h0m.1-.1h0m.1-.1h0m.2-.2h0m.7 .7h0m.1 .3h0m.3 .6h0m0-.2h0m.7-.3h0m0 1.7h0m.2-.9h0m.3 1.8h0m.1-2h0m.4 1.4h0m.2 2.5h0m.1-.2h0m.2-1.4h0m0-.1h0m.6 2.7h0m0 1.5h0m.3-.4h0m0 1.3h0m.7 .2h0m.3 .8h0m.3 1.2h0m.1-.9h0m.2 2.2h0m.1 2.8h0m.4-1.1h0m.2 5.9h0m0-1h0m1.3 4.3h0m.3 2.1h0m0 1.5h0m.6 6h0m.3-1.6h0m.7 3.8h0m.5 1.4h0m0 5.2h0m.2-1.4h0m0-2h0m.6 9h0m.1-1.6h0m.3-1.4h0m.2 4.4h0m.2 1.9h0m.3 2.4h0m.3 .3h0m0-1.3h0m.3 3.4h0m.4-1.7h0m.3 4.9h0m0-2h0m0 1.2h0m.3-1.9h0m.4 3h0m.2 .7h0m.3 .4h0m0 .3h0m0-.6h0m.2 0h0m.3-1h0m0-.1h0m.9-2.8h0m0 .4h0m.3 1.1h0m.2-3.4h0m.1-1.7h0m.2-.8h0m.7-4h0m.2 1.8h0m.1 1.5h0m.5-5h0m.3-1.9h0m.3-8.2h0m.2 1.4h0m.1 0h0m.8-3.5h0m0-1.1h0m.1-.4h0m.3 .4h0m0-3h0m.1 2h0m.3-1.2h0m.2 0h0m.1-.4h0m0-.4h0m.4-1.2h0m.5 .9h0m.7-.1h0m0 .1h0m0-.2h0m0-.5h0m.4-.2h0m.6 1.2h0m.1 0h0m.5 1.1h0m0 .8h0m.1 .6h0m.3 0h0m.2 .9h0m.4 .8h0m0-.9h0m.1 2.1h0m.1-.3h0m0 1.1h0m.1 .4h0m.7 .9h0m.1-2.4h0m.3 .8h0m.2 1h0m.4 .3h0m.2-.2h0m.1 0h0m.1 .7h0m.1-1.1h0m.1 1.3h0m.4-.8h0m.6 .1h0m.1-2h0m.3 .4h0m.2 .8h0m0-.1h0m.4-.8h0m0-1.8h0m0-.5h0m.6-3.1h0m.1 1.3h0m.4-4.2h0m.3 .6h0m.2 1.6h0m0-3.5h0m.2-1.3h0m.2 .3h0m.2-2.5h0m.3-.4h0m.1-1h0m.7-3.6h0m0 2h0m0-3h0m.1 1.3h0m.4-2.9h0m.1-1.2h0m.1 .5h0m.3-.8h0m.2-.4h0m.3-.5h0"/><path id="a4s" d="M647.4 174.2h0m.1 2.7h0m.4 3.2h0m.3 4.1h0m.2 3.4h0m1.3-.7h0m.2-2.3h0m44.5-61.4h0m1.4-11.1h0m.8-6.2h0m10.5 6.2h0m.7 3.3h0m.4-3.2h0m.1 6.1h0m2.4 12h0m.3 5.8h0m.2 2.7h0m.2-5.1h0m.3 5.7h0m0-2.9h0m6.2 18.5h0m4.6-1.8h0m.4-8.6h0m.7-4.1h0m10.6-18.6h0m.1 3.7h0m.5 4.8h0m0-5.2h0m.6 5.8h0m18.1-3.1h0m1 2.2h0m2.6 4.9h0m.4-10h0m.6 2.6h0m11.1-4.2h0m2.2 11.9h0m.2-1h0m.9 5.5h0m.7 3.6h0m.2 3.4h0m0 2.5h0m.7 3.4h0m.4 3.7h0m1.2 5.1h0m6.3 13h0m1.2-13.8h0m.6-2.4h0m10.8-7.4h0"/><path id="a5" d="M811 133.9h0m.1-.9h0m.5 5.8h0m.4 .9h0m.2-1.4h0m.1 3.7h0m.2-1.1h0m.2 2h0m0 1.5h0m.5 1.3h0m.3 1.5h0m.1-.8h0m.4 .1h0m.5 1.5h0m.3 .5h0m.1-.5h0m.1 .7h0m.1-.6h0m.2 .5h0m.1-.1h0m0-.7h0m.1 .5h0m.2 .1h0m.4 .5h0m.7-.2h0m0 .6h0m.3 .3h0m.3 .2h0m.1-1.7h0m0 2.6h0m.4 .5h0m.1 .1h0m.2 2h0m0-.5h0m1.2 4.2h0m.2-.3h0m.2 2.4h0m0 1.5h0m.7 .8h0m.4 .3h0m.4 .8h0m0 .2h0m0 .1h0m.1 .6h0m0-1.2h0m.5 .4h0m.3 .4h0m.1 0h0m.1 .3h0m.7 .4h0m.1-2h0m0 2.2h0m.1-2.1h0m0 1.2h0"/><path id="a5s" d="M810.5 131.4h0m.7 4.2h0m.1-2.7h0m.2 2.7h0m7.2 20h0m.4 3.7h0m.2-4.8h0m4.6 11.5h0m.4 6.1h0m.1 4.3h0m.2 3.6h0m.1 3.6h0m.6 5.7h0m.1 5h0m0 6h0"/><path id="b0" d="M121.8 420.3h0m.2-1.2h0m.2 1.1h0m.2-.8h0m.2-.1h0m.3-.8h0m.2 .9h0m.2 .6h0m.2-.3h0m.2-.4h0m.3 .4h0m.2-.1h0m.2 .3h0m.2 .1h0m.2-.4h0m.3 .8h0m.2 0h0m.2-.2h0m.2 0h0m.2 0h0m.3 0h0m.2-.3h0m.2 .2h0m.2 .3h0m.3 1.1h0m.2-1.5h0m.2 .3h0m.2 .5h0m.2 .3h0m.3-.4h0m.2-.2h0m.2-.3h0m.2 .6h0m.2 .5h0m.3-.1h0m.2 .3h0m.2 0h0m.2 .3h0m.2-.3h0m.3-.7h0m.2 1.6h0m.2 .1h0m.2-.4h0m.2-1.2h0m.3 .5h0m.2 1.4h0m.2-.2h0m.2-1.4h0m.2 .1h0m.3-.9h0m.2 .8h0m.2-.6h0m.2-.3h0m.2-.5h0m.3 1.4h0m.2-.9h0m.2 .5h0m.2 .8h0m.3-.8h0m.2 .9h0m.2-.1h0m.2-.6h0m.2 0h0m.3-.4h0m.2-.2h0m.2-.9h0m.2 1.5h0m.2-.9h0m.3 0h0m.2 .6h0m.2-1.3h0m.2 .7h0m.2 .4h0m.3-1.1h0m.2 .7h0m.2-.4h0m.2 0h0m.2 0h0m.3-.7h0m.2 .9h0m.2 .1h0m.2-.6h0m.2-.1h0m.3-.2h0m.2 .5h0m.2 0h0m.2 .7h0m.2 .4h0m.3-.8h0m.2 .3h0m.2-.8h0m.2-.3h0m.3 1.2h0m.2 .1h0m.2-.1h0m.2-.3h0m.2 .1h0m.3 0h0m.2 .7h0m.2-.4h0m.2 .4h0m.2 0h0m.3 .6h0m.2-1h0m.2-.4h0m.2 0h0m.2 .5h0m.3 0h0m.2 .5h0m.2 .3h0m.2-1.2h0m.2 .3h0m.3 .6h0m.2-.3h0m.2 .9h0m.2-1.1h0m.2 .3h0m.3-1.4h0m.2 .4h0m.2 1h0m.2 .2h0m.2-.8h0m.3-1h0m.2 1h0m.2 .2h0m.2-.3h0m.3-.1h0m.2 0h0m.2-.1h0m.2 .4h0m.2-.3h0m.3 .7h0m.2-.2h0m.2-.5h0m.2 .1h0m.2 .4h0m.3 .6h0m.2-.4h0m.2 .6h0m.2 0h0m.2-.2h0m.3 0h0m.2 .8h0m.2 0h0m.2-.2h0m.2 .3h0m.3-.8h0m.2 .6h0m.2 .2h0m.2 .9h0m.2-.6h0m.3 .1h0m.2-1.2h0m.2 1h0m.2 .2h0m.2 0h0m.3 .1h0m.2-.6h0m.2 .6h0m.2-.1h0m.3 1.5h0m.2-.9h0m.2-.7h0m.2 .5h0m.2-.2h0m.3-.3h0m.2 .2h0m.2 .4h0m.2-.1h0m.2 .4h0m.3-1.5h0"/><path id="b1" d="M159.5 422.6h0m.2 .5h0m.2-1.4h0m.2 .3h0m.3 1.1h0m.2-.8h0m.2 .5h0m.2-.6h0m.2 .3h0m.3-.1h0m.2-.2h0m.2 .1h0m.2-.4h0m.2-.1h0m.3 .5h0m.2-.7h0m.2 .4h0m.2-1.3h0m.2 1.2h0m.3-1.9h0m.2 1.7h0m.2-.8h0m.2 .2h0m.2-.2h0m.3-.5h0m.2 .5h0m.2 .6h0m.2-.4h0m.3 .9h0m.2-.9h0m.2 .3h0m.2 0h0m.2 0h0m.3 0h0m.2 0h0m.2 0h0m.2 0h0m.2 0h0m.3 0h0m.2 0h0m.2 0h0m.2 0h0m.2 0h0m.3 0h0m.2 0h0m.2 0h0m.2 0h0m.2 0h0m.3 0h0m.2 0h0m.2 0h0m.2 0h0m.2 0h0m.3 0h0m.2 0h0m.2-.4h0m.2 0h0m.2 0h0m.3 0h0m.2 0h0m.2-.4h0m.2 0h0m.3 0h0m.2 0h0m.2 0h0m.2 0h0m.2-.3h0m.3 0h0m.2 0h0m.2 0h0m.2 0h0m.2 0h0m.3 0h0m.2 0h0m.2 0h0m.2 0h0m.2 0h0m.3 0h0m.2 0h0m.2 0h0m.2 0h0m.2 0h0m.3 0h0m.2-.4h0m.2 0h0m.2 0h0m.2 0h0m.3-.4h0m.2 0h0m.2 0h0m.2 0h0m.2-.4h0m.3 0h0m.2 0h0m.2 0h0m.2 0h0m.3 0h0m.2 0h0m.2 0h0m.2 0h0m.2 0h0m.3 .4h0m.2 0h0m.2 0h0m.2 0h0m.2 0h0m.3 0h0m.2 .4h0m.2 0h0m.2 0h0m.2 0h0m.3 0h0m.2 0h0m.2 .4h0m.2 0h0m.2 0h0m.3 0h0m.2 0h0m.2 .3h0m.2 0h0m.2 0h0m.3 0h0m.2 0h0m.2 0h0m.2 0h0m.2 .4h0m.3 0h0m.2 0h0m.2 0h0m.2 0h0m.3 0h0m.2 0h0m.2 0h0m.2 0h0m.2 0h0m.3 0h0m.2 .4h0m.2 0h0m.2 0h0m.2 0h0m.3 0h0m.2 0h0m.2 0h0m.2 0h0m.2 0h0m.3 .4h0m.2 0h0m.2 0h0m.2 0h0m.2 0h0m.3 .4h0m.2 0h0m.2 0h0m.2 0h0m.2 0h0m.3 0h0m.2 0h0m.2 0h0m.2 0h0m.2 0h0m.3 0h0m.2 0h0m.2 0h0m.2 0h0m.3 0h0m.2 0h0m.2 0h0m.2 0h0m.2 0h0m.3 0h0m.2 0h0m.2 0h0m.2 0h0m.2 0h0m.3 0h0m.2 0h0m.2 0h0m.2 0h0m.2-.4h0m.3 0h0m.2 0h0m.2 0h0m.2 0h0m.2 0h0m.3 0h0m.2-.4h0m.2 0h0m.2 0h0m.2 0h0m.3 0h0m.2 0h0m.2 0h0m.2 0h0m.2 0h0m.3 0h0m.2 0h0m.2 0h0m.2 0h0m.2 0h0m.3-.4h0m.2 0h0m.2 0h0m.2 0h0m.3 0h0m.2 0h0m.2 0h0m.2 0h0m.2 0h0m.3 0h0m.2 0h0m.2 0h0m.2 0h0m.2 0h0m.3 0h0m.2 0h0m.2 0h0m.2 0h0m.2 0h0m.3 0h0m.2 0h0m.2 0h0m.2 0h0m.2 0h0m.3 0h0m.2 0h0m.2 0h0m.2 0h0m.2 0h0m.3 0h0m.2 0h0m.2 0h0m.2 0h0m.2 0h0m.3 .4h0m.2 0h0m.2 0h0m.2 0h0m.3 .4h0m.2 0h0m.2 0h0m.2 0h0m3.8-.8h0m.2 0h0m.2 0h0m.3 0h0m.2 0h0m.2 0h0m.2 0h0m.3 0h0m.2 0h0m.2 0h0m.2-.4h0m.2 0h0m.3 0h0m.2 0h0m.2 0h0m.2 0h0m.2-.3h0m.3 0h0m.2-.4h0m.2 0h0m.2-.4h0m.2-.4h0m.3-.4h0m.2 0h0m.2-.4h0m.2-.4h0m.2 0h0m.3-.4h0m.2 0h0m.2 0h0m.2 .4h0m.2 0h0m.3 .4h0m.2 .4h0m.2 .4h0m.2 0h0m.3 .4h0m.2 0h0m.2 .4h0m.2 .4h0m.2 0h0m.3 .3h0m.2 0h0m.2 0h0m.2 0h0m.2 0h0m.3 0h0m.2 0h0m.2 0h0m.2 0h0m.2 0h0m.3 0h0m.2 0h0m.2 0h0m.2 0h0m.2 0h0m.3 0h0m.2-.3h0m.2 0h0m.2 0h0m.2 0h0m.3 0h0m.2 0h0m.2 0h0m.2 0h0m.2 .3h0m.3 0h0m.2 0h0m.2 0h0m.2 0h0m.3 0h0m.2 0h0m.2 0h0m.2 0h0m.2 0h0m.3 0h0m.2 0h0m.2 0h0m.2 0h0m.2 0h0m.3 .4h0m.2 0h0m.2 0h0m.2 0h0m.2 0h0m.3 0h0m.2 0h0m.2 0h0m.2 0h0m.2 0h0m.3 0h0m.2 0h0m.2 .4h0m.2 0h0m.2 0h0m.3 0h0m.2 0h0m.2 0h0m.2 0h0m.3 0h0m.2 0h0m.2 0h0m.2 0h0m.2 0h0m.3 0h0m.2 0h0m.2 0h0m.2 0h0m.2 0h0m.3 0h0m.2 0h0m.2 0h0m.2 0h0m.2 0h0m.3 0h0m.2 0h0m.2 0h0m.2 0h0m.2 0h0m.3-.4h0m.2 0h0m.2-.7h0m.2-.8h0m.2-.8h0m.3-.8h0m.2-.4h0m.2 0h0m.2 .4h0m.3 .8h0m.2 .8h0m.2 .8h0m.2 .7h0m.2 0h0m.3 .4h0m.2 0h0m.2 0h0m.2 0h0m.2 0h0m.3 0h0m.2 0h0m.2 0h0m.2 0h0m.2 0h0m.3 0h0m.2 0h0m.2 0h0m.2 0h0m.2 0h0m.3 0h0m.2 0h0m.2 0h0m.2 0h0m.2 0h0m.3 0h0m.2 0h0m.2 0h0m.2 0h0m.2 0h0m.3 0h0m.2 0h0m.2 0h0m.2 0h0m.3 0h0m.2 0h0m.2 0h0m.2 0h0m.2 0h0m.3 0h0m.2 0h0m.2 0h0m.2 0h0m.2 0h0m.3 0h0m.2 0h0m.2 0h0m.2 0h0m.2 0h0m.3 0h0m.2 0h0m.2 0h0m.2 0h0m.2 0h0m.3 0h0m.2 0h0m.2 0h0m.2 0h0m.2 0h0m.3 0h0m.2 0h0m.2 0h0m.2 0h0m.3 0h0m.2 0h0m.2 0h0m.2 0h0m.2 0h0m.3 0h0m.2 0h0m.2 0h0m.2 0h0m.2 0h0m.3 0h0m.2 0h0m.2 0h0m.2 0h0m.2 0h0m.3 0h0m.2 0h0m.2 0h0m.2 0h0m.2 0h0m.3 0h0m.2 0h0m.2 0h0m.2 0h0m.2 0h0m.3 0h0m.2 0h0m.2 0h0m.2 0h0m.3 0h0m.2 0h0m.2 0h0m.2 0h0m.2 0h0m.3 0h0m.2 0h0m.2 0h0m.2 0h0m.2 0h0m.3 0h0m.2 0h0m.2 0h0m.2 0h0m.2 0h0m.3 0h0m.2 0h0m.2 0h0m.2 0h0m.2 0h0m.3 0h0m.2 0h0m.2 0h0m.2 0h0m.2 0h0m.3 0h0m.2 0h0m.2 0h0m.2 0h0m.2 0h0m.3 .4h0m.2 0h0m.2 .4h0m.2 0h0m.3 0h0m.2 0h0m.2 0h0m.2 0h0m.2 0h0m.3 0h0m.2 0h0m.2 0h0m.2 0h0m.2-.4h0m.3 0h0m.2 0h0m.2 0h0m.2 0h0m.2 0h0m.3 0h0m.2 0h0m.2 0h0m.2 0h0m.2 .4h0m.3 0h0m.2 0h0m.2 0h0m.2 .4h0m.2 0h0m.3 0h0m.2 0h0m.2 .4h0m.2 0h0m.3 0h0m.2 0h0m.2 .4h0m.2 0h0m.2 0h0m.3 0h0m.2 0h0m.2 0h0m.2 0h0m.2 0h0m.3 0h0m.2 0h0m.2 0h0m.2 0h0m.2 0h0m.3 0h0m.2 0h0m.2 0h0m.2 0h0m.2 0h0m.3 0h0m.2 0h0m.2 0h0m.2 0h0m.2 0h0m.3 0h0m.2 0h0m.2 0h0m.2 0h0m.3 0h0m.2 0h0m.2 0h0m.2 0h0m.2 0h0m.3 0h0m.2 0h0m.2 0h0m.2 0h0m.2 0h0m.3 0h0m.2 0h0m.2 0h0m.2 0h0m.2 0h0m.3 0h0m.2 0h0m.2 .4h0m.2 0h0m.2 0h0m.3 0h0m.2 0h0m.2 0h0m.2 0h0m.2 0h0m.3 0h0m.2 0h0m.2 0h0m.2 0h0m.2 0h0m.3 0h0m.2 0h0m.2 .3h0m.2 0h0m.3 0h0m.2 0h0m.2 .4h0m.2 0h0m.2 0h0m.3 0h0m.2 .4h0m.2 0h0m.2 0h0m.2 0h0m.3 0h0m.2 .4h0m.2 0h0m.2 0h0m.2 0h0m.3 0h0m.2 0h0m.2 0h0m.2 .4h0m.2 0h0m.3 0h0m.2 0h0m.2 0h0m.2 0h0m.2 0h0m.3 0h0m.2 0h0m.2 0h0m.2 0h0m.3 0h0m.2 0h0m.2 0h0m.2 0h0m.2 0h0m.3 0h0m.2 0h0m.2 0h0m.2 0h0m.2 0h0m.3 0h0m.2 0h0m.2 0h0m.2 0h0m.2 0h0m.3 0h0m.2 0h0m.2-.4h0m.2 0h0m.2 0h0m.3 0h0m.2 0h0m.2 0h0m.2 0h0m.2 0h0m.3 0h0m.2 0h0m.2 0h0m.2-.4h0m.3 0h0m.2 0h0m.2 0h0m.2 0h0m.2 0h0m.3 0h0m.2 0h0m.2 0h0m.2 0h0m.2 0h0m.3 0h0m.2 0h0m.2 0h0m.2 0h0m.2 0h0m.3 .4h0m.2 0h0m.2 0h0m.2 0h0m.2 0h0m.3 0h0m.2 0h0m.2 0h0m.2 .4h0m.2 0h0m.3 0h0m.2 0h0m.2 0h0m.2 0h0m.2 0h0m.3 0h0m.2 0h0m.2 0h0m.2 0h0m.3 0h0m.2 0h0m.2 0h0m.2 0h0m.2 0h0m.3 0h0m.2 0h0m.2 0h0m.2 0h0m.2 0h0m.3 0h0m.2 0h0m.2 0h0m.2 0h0m.2 0h0m.3 0h0m.2 0h0m.2 0h0m.2 0h0m.2 0h0m.3 0h0m.2 0h0m.2 0h0m.2 0h0m.2 0h0"/><path id="b2" d="M318.4 425.7h0m.2 0h0m.2 0h0m.2 0h0m.3 0h0m.2 0h0m.2 0h0m.2 0h0m.2 0h0m.3 0h0m.2 0h0m.2 0h0m.2 0h0m.2 0h0m.3 0h0m.2 0h0m.2 0h0m.2 0h0m.2 0h0m.3 .4h0m.2 0h0m.2 0h0m.2 0h0m.2 .4h0m.3 0h0m.2 0h0m.2 0h0m.2 0h0m.2 0h0m.3 0h0m.2 0h0m.2 0h0m.2 0h0m.3 0h0m.2 0h0m.2 0h0m.2 0h0m.2 0h0m.3 0h0m.2 0h0m.2 0h0m.2 0h0m.2 0h0m.3 0h0m.2 0h0m.2 0h0m.2 0h0m.2 0h0m.3 0h0m.2 0h0m.2 0h0m.2 0h0m.2 0h0m.3 0h0m.2 0h0m.2 0h0m.2 0h0m.2 0h0m.3 0h0m.2 0h0m.2 0h0m.2 0h0m.2 0h0m.3 0h0m.2 0h0m.2 0h0m.2 0h0m.3 0h0m.2 0h0m.2 0h0m.2 0h0m.2 0h0m.3 0h0m.2 0h0m.2 0h0m.2 0h0m.2 0h0m.3 0h0m.2 0h0m.2 .4h0m.2 0h0m.2 0h0m.3 0h0m.2 0h0m.2 0h0m.2 0h0m.2 0h0m.3 0h0m.2 0h0m.2 0h0m.2 0h0m.2 0h0m.3 0h0m.2 0h0m.2 0h0m.2 0h0m.3 0h0m.2 0h0m.2 0h0m.2 0h0m.2 0h0m.3 0h0m.2 0h0m.2 0h0m.2 0h0m.2 0h0m.3 0h0m.2 0h0m.2 0h0m.2 0h0m.2 0h0m.3-.4h0m.2 0h0m.2 0h0m.2 0h0m.2 0h0m.3 0h0m.2 .4h0m.2 0h0m.2 0h0m.2 0h0m.3 .3h0m.2 0h0m.2 0h0m.2 0h0m.3 0h0m.2 0h0m.2 0h0m.2 0h0m.2 0h0m.3 0h0m.2 0h0m.2 0h0m.2 0h0m.2 0h0m.3 0h0m.2 0h0m.2 0h0m.2 0h0m.2 0h0m.3 0h0m.2 0h0m.2 0h0m.2 0h0m.2 0h0m.3 0h0m.2 0h0m.2 0h0m.2 0h0m.2 0h0m.3 0h0m.2 0h0m.2 0h0m.2 0h0m.2 0h0m.3 0h0m.2 0h0m.2 0h0m.2 0h0m.3 0h0m.2 0h0m.2 0h0m.2 0h0m.2 0h0m.3 0h0m.2 0h0m.2 0h0m.2 0h0m.2 0h0m.3 0h0m.2 0h0m.2 0h0m.2 0h0m.2 0h0m.3 0h0m.2 0h0m.2 0h0m.2 0h0m.2 0h0m.3 0h0m.2 0h0m.2 0h0m.2 0h0m.2 0h0m.3 0h0m.2 0h0m.2 0h0m.2 0h0m.3 0h0m.2 0h0m.2 0h0m.2 0h0m.2 0h0m.3 0h0m.2 0h0m.2 0h0m.2 0h0m.2 0h0m.3 0h0m.2 0h0m.2 0h0m.2 0h0m.2 0h0m.3 0h0m.2 0h0m.2 0h0m.2 0h0m.2 0h0m.3 0h0m.2 0h0m.2 0h0m.2 0h0m.2 0h0m.3 0h0m.2 0h0m.2 0h0m.2 0h0m.3 0h0m.2-.3h0m.2 0h0m.2 0h0m.2 0h0m.3 0h0m.2 0h0m.2 0h0m.2 0h0m.2 0h0m.3 0h0m.2 0h0m.2 0h0m.2 0h0m.2 0h0m.3 0h0m.2 0h0m.2 0h0m.2 0h0m.2 0h0m.3 0h0m.2 0h0m.2 0h0m.2 0h0m.2 0h0m.3 0h0m.2 0h0m.2 0h0m.2 0h0m.2 0h0m.3 0h0m.2 0h0m.2 0h0m.2 0h0m.3 0h0m.2 0h0m.2 0h0m.2 0h0m.2 0h0m.3 0h0m.2 0h0m.2 0h0m.2 0h0m.2 0h0m.3 0h0m.2 0h0m.2 0h0m.2 0h0m.2 0h0m.3 0h0m.2 0h0m.2 0h0m.2 0h0m.2 0h0m.3 0h0m.2 0h0m.2 0h0m.2 0h0m.2 0h0m.3 0h0m.2 0h0m.2 0h0m.2 0h0m.3 0h0m.2 0h0m.2 .3h0m.2 0h0m.2 0h0m.3 0h0m.2 0h0m.2 0h0m.2 0h0m.2 0h0m.3 0h0m.2 0h0m.2 0h0m.2 0h0m.2 0h0m.3 0h0m.2 0h0m.2 0h0m.2 0h0m.2 0h0m.3 0h0m.2 0h0m.2 0h0m.2 0h0m.2 0h0m.3 0h0m.2 0h0m.2 .4h0m.2 0h0m.3 0h0m.2 0h0m.2 0h0m.2 0h0m.2 0h0m.3 0h0m.2 0h0m.2 0h0m.2 0h0m.2 0h0m.3 0h0m.2 0h0m.2 0h0m.2 0h0m.2 0h0m.3 0h0m.2 0h0m.2 0h0m.2 0h0m.2 0h0m.3 0h0m.2 0h0m.2 0h0m.2 0h0m.2 0h0m.3 0h0m.2 0h0m.2 0h0m.2 0h0m.2 0h0m.3 0h0m.2 0h0m.2 .4h0m.2 0h0m.3 0h0m.2 0h0m.2 0h0m.2 0h0m.2 0h0m.3 0h0m.2 0h0m.2 0h0m.2 0h0m.2 0h0m.3-.4h0m.2 0h0m.2 0h0m.2 0h0m.2 0h0m.3 0h0m.2 0h0m.2 0h0m.2-.4h0m.2 0h0m.3 0h0m.2 0h0m.2 0h0m.2 0h0m.2 0h0m.3-.3h0m.2 0h0m.2 0h0m.2 0h0m.3 0h0m.2 0h0m.2 0h0m.2 0h0m.2 0h0m.3 0h0m.2 0h0m.2 0h0m.2 0h0m.2 0h0m.3 0h0m.2 0h0m.2 0h0m.2 0h0m.2 0h0m.3 0h0m.2 0h0m.2 0h0m.2 0h0m.2 0h0m.3 0h0m.2 0h0m.2 0h0m.2 0h0m.2 0h0m.3 0h0m.2 0h0m.2 0h0m.2 0h0m.3 0h0m.2 0h0m.2 0h0m.2 0h0m.2 0h0m.3 0h0m.2 0h0m.2 0h0m.2 0h0m.2 0h0m.3 0h0m.2 0h0m.2 0h0m.2 0h0m.2 0h0m.3 0h0m.2 0h0m.2 0h0m.2 0h0m.2 0h0m.3 0h0m.2 0h0m.2 0h0m.2 0h0m.2 .3h0m.3 0h0m.2 0h0m.2 0h0m.2 0h0m.2 0h0m.3 0h0m.2 0h0m.2 0h0m.2 0h0m.3 0h0m.2 0h0m.2 0h0m.2 0h0m.2 0h0m.3 0h0m.2 0h0m.2 0h0m.2 0h0m.2 0h0m.3 0h0m.2 0h0m.2 0h0m.2 0h0m.2 0h0m.3 0h0m.2 0h0m.2 0h0m.2 0h0m.2 0h0m.3 0h0m.2 0h0m.2 0h0m.2 0h0m.2 0h0m.3 0h0m.2 0h0m.2 0h0m.2 0h0m.3 0h0m.2 0h0m.2 0h0m.2 0h0m.2 0h0m.3 0h0m.2 0h0m.2 0h0m.2 0h0m.2 0h0m.3 0h0m.2 0h0m.2 0h0m.2 0h0m.2 0h0m.3 0h0m.2 0h0m.2 0h0m.2 0h0m.2 0h0m.3 0h0m.2 0h0m.2 0h0m.2 0h0m.2 0h0m.3 0h0m.2 0h0m.2 0h0m.2 0h0m.3 0h0m.2 0h0m.2 0h0m.2 .4h0m.2 0h0m.3 0h0m.2 0h0m.2 0h0m.2 0h0m.2 0h0m.3 0h0m.2 0h0m.2 0h0m.2 0h0m.2 0h0m.3 0h0m.2 0h0m.2 0h0m.2 0h0m.2 0h0m.3 0h0m.2 0h0m.2 0h0m.2 0h0m.2 0h0m.3 .4h0m.2 0h0m.2 0h0m.2 0h0m.2 0h0m.3 0h0m.2 .4h0m.2 0h0m.2 0h0m.3 0h0m.2 0h0m.2 0h0m.2 0h0m.2 0h0m.3 0h0m.2 0h0m.2 0h0m.2 0h0m.2 0h0m.3 0h0m.2 0h0m.2 0h0m.2 0h0m.2 0h0m.3 0h0m.2 0h0m.2 0h0m.2 0h0m.2 0h0m.3 0h0m.2 0h0m.2 0h0m.2 0h0m.2 0h0m.3 0h0m.2 0h0m.2 0h0m.2 0h0m.3 0h0m.2 0h0m.2 0h0m.2 0h0m.2 0h0m.3 0h0m.2 0h0m.2 0h0m.2 0h0m.2 0h0m.3 0h0m.2 0h0m.2 0h0m.2 0h0m.2 0h0m.3 0h0m.2 0h0m.2 0h0m.2 0h0m.2 0h0m.3 0h0m.2 0h0m.2 0h0m.2 0h0m.2 0h0m.3 0h0m.2 0h0m.2 0h0m.2 0h0m.3 .4h0m.2 0h0m.2 0h0m.2 0h0m.2 0h0m.3 0h0m.2 0h0m.2 0h0m.2 0h0m.2 0h0m.3 0h0m.2 0h0m.2 0h0m.2 0h0m.2 0h0m.3 0h0m.2 0h0m.2 0h0m.2 0h0m.2 .4h0m.3 0h0m.2 0h0m.2 0h0m.2 .4h0m.2 0h0m.3 0h0m.2 0h0m.2 0h0m.2 0h0m.2 0h0m.3 0h0m.2 0h0m.2 0h0m.2 0h0m.3 0h0m.2 0h0m.2 0h0m.2 0h0m.2 0h0m.3 0h0m.2 0h0m.2 0h0m.2 0h0m.2 0h0m.3 0h0m.2 0h0m.2 0h0m.2 0h0m.2 0h0m.3 0h0m.2 0h0m.2 0h0m.2 0h0m.2 0h0m.3 0h0m.2 0h0m.2 0h0m.2 0h0m.2 0h0m.3 0h0m.2 0h0m.2 0h0m.2 0h0m.3 0h0m.2 0h0m.2 0h0m.2 0h0m.2 0h0m.3 0h0m.2 0h0m.2 0h0m.2 0h0m.2 0h0m.3 0h0m.2 0h0m.2 0h0m.2 0h0m.2 0h0m.3 0h0m.2 0h0m.2 0h0m.2 0h0m.2 0h0m.3 0h0m.2 0h0m.2 0h0m.2 0h0m.2 0h0m.3 0h0m.2 0h0m.2 0h0m.2 0h0m.3 0h0m.2 0h0m.2 0h0m.2 0h0m.2 0h0m.3 0h0m.2 0h0m.2 0h0m.2 0h0m.2 0h0m.3 0h0m.2 0h0m.2 0h0m.2 0h0m.2 0h0m.3 0h0m.2 0h0m.2 0h0m.2 0h0m.2 0h0m.3 0h0m.2 0h0m.2 0h0m.2 0h0m.2 0h0m.3 0h0m.2 0h0m.2 0h0m.2 0h0m.2 0h0m.3 0h0m.2 0h0m.2 0h0m.2 0h0m.3 0h0m.2 0h0m.2 0h0m.2 0h0m.2 0h0m.3 0h0m.2 0h0m.2 0h0m.2 0h0m.2 0h0m.3 0h0m.2 0h0m.2 0h0m.2 0h0m.2 0h0m.3 0h0m.2 0h0m.2 0h0m.2 0h0m.2 .4h0m.3 0h0m.2 0h0m.2 0h0m.2 0h0m.2 .4h0m.3 0h0m.2 0h0m.2 0h0m.2 0h0m.3 0h0m.2 0h0m.2 0h0"/><path id="b3" d="M482.3 430.4h0m.2 0h0m.3 .3h0m.2 0h0m.2 0h0m.2 0h0m.2 0h0m.3 0h0m.2 0h0m.2 0h0m.2 0h0m.2 0h0m.3 0h0m.2 0h0m.2 0h0m.2 0h0m.2 0h0m.3 0h0m.2 0h0m.2 0h0m.2 .4h0m.2 0h0m.3 0h0m.2 0h0m.2 0h0m.2 0h0m.3 0h0m.2 0h0m.2 0h0m.2 0h0m.2 0h0m.3 0h0m.2 0h0m.2 0h0m.2 0h0m.2 0h0m.3 0h0m.2 0h0m.2 0h0m.2 0h0m.2 0h0m.3 0h0m.2 0h0m.2 0h0m.2 0h0m.2 0h0m.3 0h0m.2 0h0m.2 0h0m.2 0h0m.2 0h0m.3 0h0m.2 0h0m.2 0h0m.2 0h0m.2 0h0m.3 0h0m.2 0h0m.2 0h0m.2 0h0m.3 0h0m.2 0h0m.2 0h0m.2 0h0m.2 0h0m.3 0h0m.2 0h0m.2 0h0m.2 0h0m.2 0h0m.3 0h0m.2 0h0m.2 0h0m.2 0h0m.2 0h0m.3 0h0m.2 0h0m.2 0h0m.2 0h0m.2 0h0m.3 0h0m.2 0h0m.2 0h0m.2 0h0m.2 0h0m.3 0h0m.2 0h0m.2 0h0m.2 0h0m.3 0h0m.2 0h0m.2 0h0m.2 0h0m.2 0h0m.3 0h0m.2 0h0m.2 0h0m.2 0h0m.2 0h0m.3 0h0m.2 0h0m.2 0h0m.2 0h0m.2 0h0m.3 .4h0m.2 0h0m.2 0h0m.2 0h0m.2 0h0m.3 .4h0m.2 0h0m.2 0h0m.2 0h0m.2 0h0m.3 0h0m.2 0h0m.2 0h0m.2 0h0m.3 0h0m.2 0h0m.2 0h0m.2 0h0m.2 0h0m.3 .4h0m.2 0h0m.2 0h0m.2 0h0m.2 0h0m.3 0h0m.2 0h0m.2 0h0m.2 0h0m.2 0h0m.3 0h0m.2 0h0m.2 0h0m.2 0h0m.2 0h0m.3 0h0m.2 0h0m.2 0h0m.2 0h0m.2 0h0m.3 0h0m.2 0h0m.2 0h0m.2 0h0m.2 0h0m.3 0h0m.2 0h0m.2 0h0m.2 0h0m.3 0h0m.2 .4h0m.2 0h0m.2 0h0m.2 0h0m.3 0h0m.2 0h0m.2 0h0m.2 0h0m.2 0h0m.3 .4h0m.2 0h0m.2 0h0m.2 0h0m.2 0h0m.3 0h0m.2 .4h0m.2 0h0m.2 0h0m.2 0h0m.3 0h0m.2 0h0m.2 0h0m.2 0h0m.2 0h0m.3 0h0m.2 0h0m.2 0h0m.2 0h0m.3 0h0m.2 0h0m.2 0h0m.2 0h0m.2 0h0m.3 0h0m.2 0h0m.2 0h0m.2 0h0m.2 0h0m.3 0h0m.2 0h0m.2 0h0m.2 0h0m.2 0h0m.3 0h0m.2 0h0m.2 0h0m.2 0h0m.2 0h0m.3 0h0m.2 0h0m.2 0h0m.2 0h0m.2 0h0m.3 0h0m.2 0h0m.2 0h0m.2 0h0m.3 0h0m.2 0h0m.2 0h0m.2 0h0m.2 0h0m.3 0h0m.2 0h0m.2 0h0m.2 0h0m.2 0h0m.3 0h0m.2 0h0m.2 0h0m.2 0h0m.2 0h0m.3 0h0m.2 0h0m.2 0h0m.2 0h0m.2 0h0m.3 0h0m.2 0h0m.2 0h0m.2 0h0m.2 0h0m.3 0h0m.2 0h0m.2 0h0m.2 0h0m.2 0h0m.3 0h0m.2 0h0m.2 0h0m.2 0h0m.3 0h0m.2 0h0m.2 0h0m.2 0h0m.2 0h0m.3 0h0m.2 0h0m.2 0h0m.2 0h0m.2 0h0m.3 0h0m.2 0h0m.2 0h0m.2 0h0m.2 0h0m.3 0h0m.2 0h0m.2 0h0m.2 0h0m.2 0h0m.3 0h0m.2 0h0m.2 0h0m.2 0h0m.2 0h0m.3 0h0m.2 0h0m.2 0h0m.2 0h0m.3 0h0m.2 0h0m.2 0h0m.2 0h0m.2 0h0m.3 0h0m.2 0h0m.2 0h0m.2 0h0m.2 0h0m.3 0h0m.2 0h0m.2 .4h0m.2 0h0m.2 0h0m.3 0h0m.2 0h0m.2 0h0m.2 0h0m.2 .3h0m.3 0h0m.2 0h0m.2 0h0m.2 0h0m.2 0h0m.3 0h0m.2 0h0m.2 0h0m.2 0h0m.3 0h0m.2 0h0m.2 0h0m.2 0h0m.2 0h0m.3 0h0m.2 0h0m.2 0h0m.2 0h0m.2 0h0m.3 0h0m.2 0h0m.2 .4h0m.2 0h0m.2 0h0m.3 0h0m.2 0h0m.2 0h0m.2 0h0m.2 0h0m.3 0h0m.2 0h0m.2 0h0m.2 0h0m.2 0h0m.3 0h0m.2 0h0m.2 0h0m.2 0h0m.2 0h0m.3 0h0m.2 0h0m.2 0h0m.2 0h0m.3 0h0m.2 0h0m.2 0h0m.2 0h0m.2 0h0m.3 0h0m.2 0h0m.2 0h0m.2 0h0m.2 0h0m.3 0h0m.2 0h0m.2 0h0m.2 0h0m.2 0h0m.3 0h0m.2 0h0m.2 0h0m.2 0h0m.2 0h0m.3 0h0m.2 0h0m.2 0h0m.2 0h0m.2 0h0m.3 0h0m.2 0h0m.2 0h0m.2 0h0m.3 0h0m.2 0h0m.2 0h0m.2 0h0m.2 0h0m.3 0h0m.2 0h0m.2 0h0m.2 0h0m.2 0h0m.3 0h0m.2 0h0m.2 0h0m.2 0h0m.2 0h0m.3 0h0m.2 0h0m.2 0h0m.2 0h0m.2 0h0m.3 0h0m.2 0h0m.2 0h0m.2 0h0m.2 0h0m.3 0h0m.2 0h0m.2 0h0m.2 0h0m.3 0h0m.2 0h0m.2 0h0m.2 .4h0m.2 0h0m.3 0h0m.2 .4h0m.2 0h0m.2 0h0m.2 0h0m.3 0h0m.2 0h0m.2 0h0m.2 0h0m.2 0h0m.3 0h0m.2 0h0m.2 0h0m.2 0h0m.2 0h0m.3 .4h0m.2 0h0m.2 0h0m.2 0h0m.2 0h0m.3 0h0m.2 0h0m.2 0h0m.2 0h0m.2 0h0m.3 0h0m.2 0h0m.2 0h0m.2 0h0m.3 0h0m.2 0h0m.2 0h0m.2 0h0m.2 0h0m.3 0h0m.2 0h0m.2 0h0m.2 0h0m.2 0h0m.3 0h0m.2 0h0m.2 0h0m.2 0h0m.2 0h0m.3 0h0m.2 0h0m.2 0h0m.2 0h0m.2 0h0m.3 0h0m.2 0h0m.2 0h0m.2 0h0m.2 0h0m.3 0h0m.2 0h0m.2 0h0m.2 0h0m.3 0h0m.2 0h0m.2 .4h0m.2 0h0m.2 0h0m.3 0h0m.2 0h0m.2 .4h0m.2 0h0m.2 0h0m.3 0h0m.2 0h0m.2 0h0m.2 0h0m.2 0h0m.3 0h0m.2 0h0m.2 0h0m.2 0h0m.2 0h0m.3 0h0m.2 0h0m.2 0h0m.2 0h0m.2 0h0m.3 0h0m.2 0h0m.2 0h0m.2 0h0m.3 0h0m.2 0h0m.2 0h0m.2 0h0m.2 0h0m.3 0h0m.2 0h0m.2 0h0m.2 0h0m.2 0h0m.3 0h0m.2 0h0m.2 0h0m.2 0h0m.2 0h0m.3 0h0m.2 0h0m.2 0h0m.2 0h0m.2 0h0m.3 0h0m.2 0h0m.2 0h0m.2 0h0m.2 0h0m.3 0h0m.2 0h0m.2 0h0m.2 0h0m.2 0h0m.3 0h0m.2 0h0m.2 0h0m.2 0h0m.3 0h0m.2 .4h0m.2 0h0m.2 0h0m.2 0h0m.3 0h0m.2 .3h0m.2 0h0m.2 0h0m.2 0h0m.3 0h0m.2 0h0m.2 0h0m.2 0h0m.2 0h0m.3 0h0m.2 0h0m.2 0h0m.2 0h0m.2 0h0m.3 0h0m.2 0h0m.2 0h0m.2 0h0m.2 0h0m.3 0h0m.2 0h0m.2 0h0m.2 0h0m.3 0h0m.2 0h0m.2 0h0m.2 0h0m.2 0h0m.3 0h0m.2 0h0m.2 0h0m.2 0h0m.2 0h0m.3 0h0m.2 0h0m.2 0h0m.2 0h0m.2 0h0m.3 0h0m.2 0h0m.2 0h0m.2 0h0m.2 0h0m.3 0h0m.2 0h0m.2 0h0m.2 0h0m.2 0h0m.3 0h0m.2 0h0m.2 0h0m.2 0h0m.3 0h0m.2 0h0m.2 0h0m.2 0h0m.2 0h0m.3 0h0m.2 0h0m.2 0h0m.2 0h0m.2 0h0m.3 0h0m.2 0h0m.2 0h0m.2 0h0m.2 0h0m.3 0h0m.2 0h0m.2 0h0m.2 0h0m.2 0h0m.3 0h0m.2 0h0m.2 0h0m.2 0h0m.2 0h0m.3 0h0m.2 0h0m.2 0h0m.2 0h0m.2 0h0m.3 0h0m.2 0h0m.2 0h0m.2 .4h0m.3 0h0m.2 0h0m.2 0h0m.2 0h0m.2 0h0m.3 0h0m.2 0h0m.2 0h0m.2 0h0m.2 0h0m.3 0h0m.2 0h0m.2 .4h0m.2 0h0m.2 0h0m.3 0h0m.2 0h0m.2 0h0m.2 0h0m.2 0h0m.3 0h0m.2 0h0m.2 0h0m.2 0h0m.2 0h0m.3 0h0m.2 0h0m.2 0h0m.2 0h0m.3 .4h0m.2 0h0m.2 0h0m.2 0h0m.2 0h0m.3 0h0m.2 0h0m.2 0h0m.2 0h0m.2 0h0m.3 0h0m.2 0h0m.2 0h0m.2 0h0m.2 0h0m.3 0h0m.2 0h0m.2 0h0m.2 0h0m.2 0h0m.3 0h0m.2 0h0m.2 0h0m.2 0h0m.2 0h0m.3 0h0m.2 0h0m.2 0h0m.2 0h0m.3 0h0m.2 0h0m.2 0h0m.2 0h0m.2 0h0m.3 0h0m.2 0h0m.2 0h0m.2 0h0m.2 0h0m.3 0h0m.2 0h0m.2 0h0m.2 0h0m.2 0h0m.3 0h0m.2 0h0m.2 0h0m.2 0h0m.2 0h0m.3 0h0m.2 0h0m.2 0h0m.2 0h0m.2 0h0m.3 0h0m.2 0h0m.2 0h0m.2 0h0m.2 0h0m.3 0h0m.2 0h0m.2 0h0m.2 0h0m.3 0h0m.2 0h0m.2 0h0m.2 0h0m.2 0h0m.3 0h0m.2 0h0m.2 0h0m.2 0h0m.2 0h0m.3 0h0m.2 0h0m.2 0h0m.2 0h0m.2 0h0"/><path id="b4" d="M641 438.5h0m.2 0h0m.2 0h0m.2 0h0m.2 0h0m.3 0h0m.2 0h0m.2 0h0m.2 0h0m.2 0h0m.3 0h0m.2 0h0m.2 0h0m.2 0h0m.3 0h0m.2 0h0m.2 0h0m.2 0h0m.2 0h0m.3 0h0m.2 0h0m.2 0h0m.2 0h0m.2 0h0m.3 0h0m.2 0h0m.2 0h0m.2 0h0m.2 0h0m.3 0h0m.2 0h0m.2 0h0m.2 0h0m.2 0h0m.3 0h0m.2 0h0m.2 0h0m.2 0h0m.2 0h0m.3 0h0m.2 0h0m.2 0h0m.2 0h0m.3 0h0m.2 0h0m.2 0h0m.2 0h0m.2 0h0m.3 0h0m.2 0h0m.2 0h0m.2 0h0m.2 .4h0m.3 0h0m.2 0h0m.2 0h0m.2 0h0m.2 .4h0m.3 0h0m.2 0h0m.2 0h0m.2 0h0m.2 0h0m.3 0h0m.2 0h0m.2 0h0m.2 0h0m.2 0h0m.3 0h0m.2 0h0m.2 0h0m.2 0h0m.2 0h0m.3 0h0m.2 0h0m.2 0h0m.2 0h0m.3 0h0m.2 0h0m.2 0h0m.2 0h0m.2 0h0m.3 0h0m.2 0h0m.2 0h0m.2 0h0m.2 0h0m.3 0h0m.2 0h0m.2 0h0m.2 0h0m.2 0h0m.3 0h0m.2 0h0m.2 0h0m.2 0h0m.2 0h0m.3 0h0m.2 0h0m15.5 1.2h0m.2 0h0m.2 0h0m.3 0h0m.2 0h0m.2 0h0m.2 0h0m.2 0h0m.3 0h0m.2 0h0m.2 0h0m.2 0h0m.2 0h0m.3 0h0m.2 0h0m.2 0h0m.2 0h0m.2 0h0m.3 0h0m.2 0h0m.2 0h0m.2 0h0m.2 0h0m10.4 .3h0m.2 0h0m.2 0h0m.2 0h0m.3 .4h0m.2 0h0m.2 0h0m.2 0h0m.2 0h0m.3 0h0m.2 0h0m.2 0h0m.2 0h0m.2 0h0m.3 0h0m.2 0h0m.2 0h0m.2 0h0m.2 0h0m.3 0h0m.2 0h0m.2 0h0m.2 0h0m.2 .4h0m.3 0h0m.2 0h0m.2 0h0m.2 0h0m.2 0h0m.3 0h0m.2 0h0m.2 0h0m.2 0h0m.3 0h0m.2 0h0m.2 0h0m.2 0h0m.2 0h0m.3 0h0m.2 0h0m.2 0h0m.2 0h0m.2 0h0m.3 0h0m.2 0h0m.2 0h0m.2 0h0m.2 0h0m.3 0h0m.2 0h0m.2 0h0m.2 0h0m.2 0h0m.3 0h0m.2 0h0m.2 0h0m.2 .4h0m.2 0h0m.3 .4h0m.2 0h0m.2 0h0m.2 0h0m.2 0h0m.3 0h0m.2 0h0m.2 0h0m.2 0h0m.2 0h0m.3 0h0m.2 0h0m.2 0h0m.2 0h0m.3 0h0m.2 0h0m.2 0h0m.2 0h0m.2 0h0m.3 0h0m.2 0h0m.2 0h0m.2 0h0m.2 0h0m.3 0h0m.2 0h0m.2 0h0m.2 0h0m.2 0h0m.3 0h0m.2 0h0m.2 0h0m.2 0h0m.2 0h0m.3 0h0m.2 0h0m.2 0h0m.2 0h0m.2 0h0m.3 0h0m.2 .4h0m.2 0h0m.2 0h0m.2 0h0m.3 0h0m.2 .4h0m.2 0h0m.2 0h0m.2 0h0m.3 0h0m.2 0h0m.2 0h0m.2 0h0m.3 0h0m.2 0h0m.2 0h0m.2 .4h0m.2 0h0m.3 0h0m.2 0h0m.2 0h0m.2 0h0m.2 0h0m.3 0h0m.2 0h0m.2 0h0m.2 0h0m.2 0h0m.3 0h0m.2 0h0m.2 0h0m.2 0h0m.2 0h0m.3 0h0m.2 0h0m.2 0h0m.2 0h0m.2 0h0m.3 0h0m.2 0h0m.2 0h0m.2 0h0m.2 0h0m.3 0h0m.2 0h0m.2 0h0m.2 0h0m.2 0h0m.3 0h0m.2 0h0m4.8 .7h0m.2 0h0m.3 0h0m.2 0h0m.2 0h0m.2 0h0m.2 0h0m.3 0h0m.2 0h0m.2 0h0m.2 0h0m.2 0h0m.3 0h0m.2 0h0m.2 0h0m.2 0h0m.3 0h0m.2 0h0m.2 0h0m.2 0h0m.2 0h0m.3 0h0m.2 0h0m.2 0h0m.2 0h0m.2 0h0m.3 0h0m.2 0h0m.2 0h0m.2 0h0m.2 0h0m.3 0h0m.2 0h0m.2 0h0m.2 0h0m.2 0h0m.3 0h0m.2 0h0m.2 0h0m.2 0h0m.3 0h0m.2 0h0m.2 0h0m.2 0h0m.2 0h0m.3 0h0m.2 0h0m.2 0h0m.2 0h0m.2 0h0m.3 0h0m.2 0h0m.2 0h0m.2 0h0m.2 0h0m.3 0h0m.2 0h0m.2 0h0m.2 0h0m.2 0h0m.3 0h0m.2 0h0m.2 0h0m.2 0h0m.3 0h0m.2 0h0m.2 0h0m.2 0h0m.2 0h0m.3 0h0m.2 .4h0m.2 0h0m.2 0h0m.2 0h0m.3 0h0m.2 .4h0m.2 0h0m.2 0h0m.2 0h0m.3 0h0m.2 0h0m.2 0h0m.2 0h0m.3 0h0m.2 0h0m.2 0h0m.2 0h0m.2 0h0m.3 0h0m.2 0h0m.2 0h0m.2 0h0m.2 0h0m.3 0h0m.2 0h0m.2 0h0m.2 0h0m.2 0h0m.3 0h0m.2 0h0m.2 0h0m.2 0h0m.2 0h0m.3 0h0m.2 0h0m.2 0h0m.2 0h0m.3 0h0m.2 0h0m.2 0h0m.2 0h0m.2 0h0m.3 0h0m.2 0h0m.2 0h0m.2 0h0m.2 0h0m.3 0h0m.2 0h0m.2 0h0m.2 0h0m.2 0h0m.3 0h0m.2 0h0m.2 0h0m.2 0h0m.2 0h0m.3 0h0m.2 0h0m.2 0h0m.2 0h0m.3 0h0m.2 0h0m.2 0h0m.2 0h0m.2 0h0m.3 0h0m.2 0h0m.2 0h0m.2 0h0m.2 0h0m.3 0h0m.2 0h0m.2 0h0m.2 0h0m.2 0h0m.3 0h0m.2 0h0m.2 0h0m.2 0h0m.3 0h0m.2 0h0m.2 0h0m.2 0h0m.2 0h0m.3 0h0m.2 0h0m.2 0h0m.2 0h0m.2 0h0m.3 0h0m.2 0h0m.2 0h0m.2 0h0m.2 0h0m.3 0h0m.2 0h0m.2 0h0m.2 0h0m.2 0h0m.3 0h0m.2 0h0m.2 0h0m.2 0h0m.3 0h0m.2 0h0m.2 0h0m.2 0h0m.2 0h0m.3 0h0m.2 0h0m.2 0h0m.2 0h0m.2 0h0m.3 0h0m.2 0h0m.2 0h0m.2 0h0m.2 0h0m.3 0h0m.2 0h0m.2 0h0m.2 0h0m.2 0h0m.3 0h0m.2 0h0m.2 0h0m.2 0h0m.3 0h0m.2 0h0m.2 0h0m.2 0h0m.2 0h0m.3 0h0m.2 0h0m.2 0h0m.2 0h0m.2 .4h0m.3 0h0m.2 0h0m.2 0h0m.2 0h0m.2 0h0m.3 0h0m.2 0h0m.2 0h0m.2 0h0m.2 0h0m.3 0h0m.2 0h0m.2 0h0m.2 0h0m.3 0h0m.2 0h0m.2 0h0m.2 0h0m.2 0h0m.3 0h0m.2 .4h0m.2 0h0m.2 0h0m.2 .4h0m.3 0h0m.2 0h0m.2 0h0m.2 .4h0m.2 0h0m.3 0h0m.2 0h0m.2 0h0m.2 0h0m.3 0h0m.2 0h0m.2 0h0m.2 0h0m.2 0h0m.3 0h0m.2 0h0m.2 0h0m.2 0h0m.2 0h0m.3 0h0m.2 0h0m.2 0h0m.2 0h0m.2 0h0m.3 0h0m.2 0h0m.2 0h0m.2 0h0m.2 0h0m.3 0h0m.2 0h0m.2 0h0m.2 0h0m.3 0h0m.2 0h0m.2 0h0m.2 0h0m.2 0h0m.3 0h0m.2 0h0m.2 .4h0m.2 0h0m.2 0h0m.3 .3h0m.2 0h0m.2 0h0m.2 0h0m.2 0h0m.3 0h0m.2 0h0m.2 0h0m.2 0h0m.2 0h0m.3 0h0m.2 0h0m.2 0h0m.2 0h0m.3 0h0m.2 0h0m.2 0h0m.2 0h0m.2 0h0m.3 0h0m.2 0h0m.2 0h0m.2 0h0m.2 0h0m.3 0h0m.2 0h0m.2 0h0m.2 0h0m.2 0h0m.3 0h0m.2 0h0m.2 0h0m.2 0h0m.3 0h0m.2 0h0m.2 0h0m.2 0h0m.2 0h0m.3 0h0"/><path id="b5" d="M810 448.2h0m.2 0h0m.2 0h0m.3 0h0m.2 .4h0m.2 0h0m.2 0h0m.2 0h0m.3 0h0m.2 0h0m.2 0h0m.2 0h0m.2 0h0m.3 0h0m.2 0h0m.2 0h0m.2 0h0m.2 0h0m.3 0h0m.2 0h0m.2 0h0m.2 0h0m.2 0h0m.2 0h0m.3 0h0m.2 0h0m.2 0h0m.2 0h0m.2 0h0m.3 0h0m.2 0h0m.2 0h0m.2 0h0m.2 0h0m.3 0h0m.2 0h0m.2 0h0m.2 0h0m.2 0h0m.3 0h0m.2 0h0m.2 0h0m.2 0h0m.2 0h0m.3 0h0m.2 0h0m.2 0h0m.2 0h0m.2 0h0m.3 0h0m.2 0h0m.2 0h0m.2 .4h0m.2 0h0m.3 0h0m.2 0h0m.2 .4h0m.2 0h0m.2 0h0m.3 0h0m.2 0h0m.2 0h0m.2 0h0m.2 0h0m.2 0h0m.3 0h0m.2 0h0m.2 0h0m.2 0h0m.2 0h0m.3 0h0m.2 0h0"/></defs>
<g fill="none" stroke-linecap="round"><g stroke="#000"><use href="#a0" stroke-width="4.8"/><use href="#a1" stroke-width="4.8"/><use href="#a1s" stroke-width="4.4"/><use href="#a2" stroke-width="4.8"/><use href="#a2s" stroke-width="4.4"/><use href="#a3" stroke-width="4.8"/><use href="#a3s" stroke-width="4.4"/><use href="#a4" stroke-width="4.8"/><use href="#a4s" stroke-width="4.4"/><use href="#a5" stroke-width="4.8"/><use href="#a5s" stroke-width="4.4"/></g><use href="#a0" stroke="#ffff00" stroke-width="3.2"/><use href="#a1" stroke="#ff8c00" stroke-width="3.2"/><use href="#a1s" stroke="#ff8c00" stroke-width="3.3"/><use href="#a2" stroke="#ff4500" stroke-width="3.2"/><use href="#a2s" stroke="#ff4500" stroke-width="3.3"/><use href="#a3" stroke="#ff0000" stroke-width="3.2"/><use href="#a3s" stroke="#ff0000" stroke-width="3.3"/><use href="#a4" stroke="#8b4513" stroke-width="3.2"/><use href="#a4s" stroke="#8b4513" stroke-width="3.3"/>
<g stroke="#000"><use href="#b0" stroke-width="5"/><use href="#b1" stroke-width="5"/><use href="#b2" stroke-width="5"/><use href="#b3" stroke-width="5"/><use href="#b4" stroke-width="5"/><use href="#b5" stroke-width="5"/></g><use href="#b0" stroke="#ffff00" stroke-width="3.2"/><use href="#b1" stroke="#ff8c00" stroke-width="3.2"/><use href="#b2" stroke="#ff4500" stroke-width="3.2"/><use href="#b3" stroke="#ff0000" stroke-width="3.2"/><use href="#b4" stroke="#8b4513" stroke-width="3.2"/></g>
<path d="M120.50 267.50v4.86M284.50 267.50v4.86M443.50 267.50v4.86M607.50 267.50v4.86M766.50 267.50v4.86M86.50 267.50h-4.86M86.50 234.50h-4.86M86.50 200.50h-4.86M86.50 167.50h-4.86M86.50 133.50h-4.86M86.50 100.50h-4.86M86.50 67.50h-4.86M86.50 33.50h-4.86" stroke="#000" stroke-width="1.11" fill="none"/>
<rect x="86.50" y="33.50" width="775.00" height="234.00" fill="none" stroke="#000" stroke-width="1.11"/>
<text x="45.00" y="274.30" font-size="16.67" textLength="30.9">940</text>
<text x="45.00" y="241.30" font-size="16.67" textLength="30.9">960</text>
<text x="45.00" y="207.30" font-size="16.67" textLength="30.9">980</text>
<text x="34.70" y="174.30" font-size="16.67" textLength="41.2">1000</text>
<text x="34.70" y="140.30" font-size="16.67" textLength="41.2">1020</text>
<text x="34.70" y="107.30" font-size="16.67" textLength="41.2">1040</text>
<text x="34.70" y="74.30" font-size="16.67" textLength="41.2">1060</text>
<text x="34.70" y="40.30" font-size="16.67" textLength="41.2">1080</text>
<text transform="translate(126.90 281.30) rotate(-85)" font-size="13.40" text-anchor="end">08/24/25</text>
<text transform="translate(290.90 281.30) rotate(-85)" font-size="13.40" text-anchor="end">09/24/25</text>
<text transform="translate(449.90 281.30) rotate(-85)" font-size="13.40" text-anchor="end">10/24/25</text>
<text transform="translate(613.90 281.30) rotate(-85)" font-size="13.40" text-anchor="end">11/24/25</text>
<text transform="translate(772.90 281.30) rotate(-85)" font-size="13.40" text-anchor="end">12/24/25</text>
<text x="140.50" y="24.80" font-size="20.00" textLength="665.0" xml:space="preserve" style="white-space:pre">Sea Level Pressure 300534064598260  08/24/2025 to 01/04/2026</text>
<text transform="translate(22.50 152.10) rotate(-90) scale(1,1.09)" font-size="16.67" text-anchor="middle">Sea Level Pressure</text>
<path d="M120.50 617.50v4.86M284.50 617.50v4.86M443.50 617.50v4.86M607.50 617.50v4.86M766.50 617.50v4.86M86.50 617.50h-4.86M86.50 578.50h-4.86M86.50 539.50h-4.86M86.50 500.50h-4.86M86.50 462.50h-4.86M86.50 423.50h-4.86M86.50 384.50h-4.86" stroke="#000" stroke-width="1.11" fill="none"/>
<rect x="86.50" y="384.50" width="775.00" height="233.00" fill="none" stroke="#000" stroke-width="1.11"/>
<text x="41.30" y="624.30" font-size="16.67" textLength="34.6">−40</text>
<text x="41.30" y="585.30" font-size="16.67" textLength="34.6">−30</text>
<text x="41.30" y="546.30" font-size="16.67" textLength="34.6">−20</text>
<text x="41.30" y="507.30" font-size="16.67" textLength="34.6">−10</text>
<text x="65.60" y="469.30" font-size="16.67" textLength="10.3">0</text>
<text x="55.30" y="430.30" font-size="16.67" textLength="20.6">10</text>
<text x="55.30" y="391.30" font-size="16.67" textLength="20.6">20</text>
<text transform="translate(126.90 631.30) rotate(-85)" font-size="13.40" text-anchor="end">08/24/25</text>
<text transform="translate(290.90 631.30) rotate(-85)" font-size="13.40" text-anchor="end">09/24/25</text>
<text transform="translate(449.90 631.30) rotate(-85)" font-size="13.40" text-anchor="end">10/24/25</text>
<text transform="translate(613.90 631.30) rotate(-85)" font-size="13.40" text-anchor="end">11/24/25</text>
<text transform="translate(772.90 631.30) rotate(-85)" font-size="13.40" text-anchor="end">12/24/25</text>
<text x="129.40" y="375.00" font-size="20.00" textLength="687.3" xml:space="preserve" style="white-space:pre">Surface Temperature 300534064598260  08/24/2025 to 01/04/2026</text>
<text transform="translate(29.50 501.30) rotate(-90) scale(1,1.09)" font-size="16.67" text-anchor="middle">Surface Temperature</text>
</svg></body></html>
